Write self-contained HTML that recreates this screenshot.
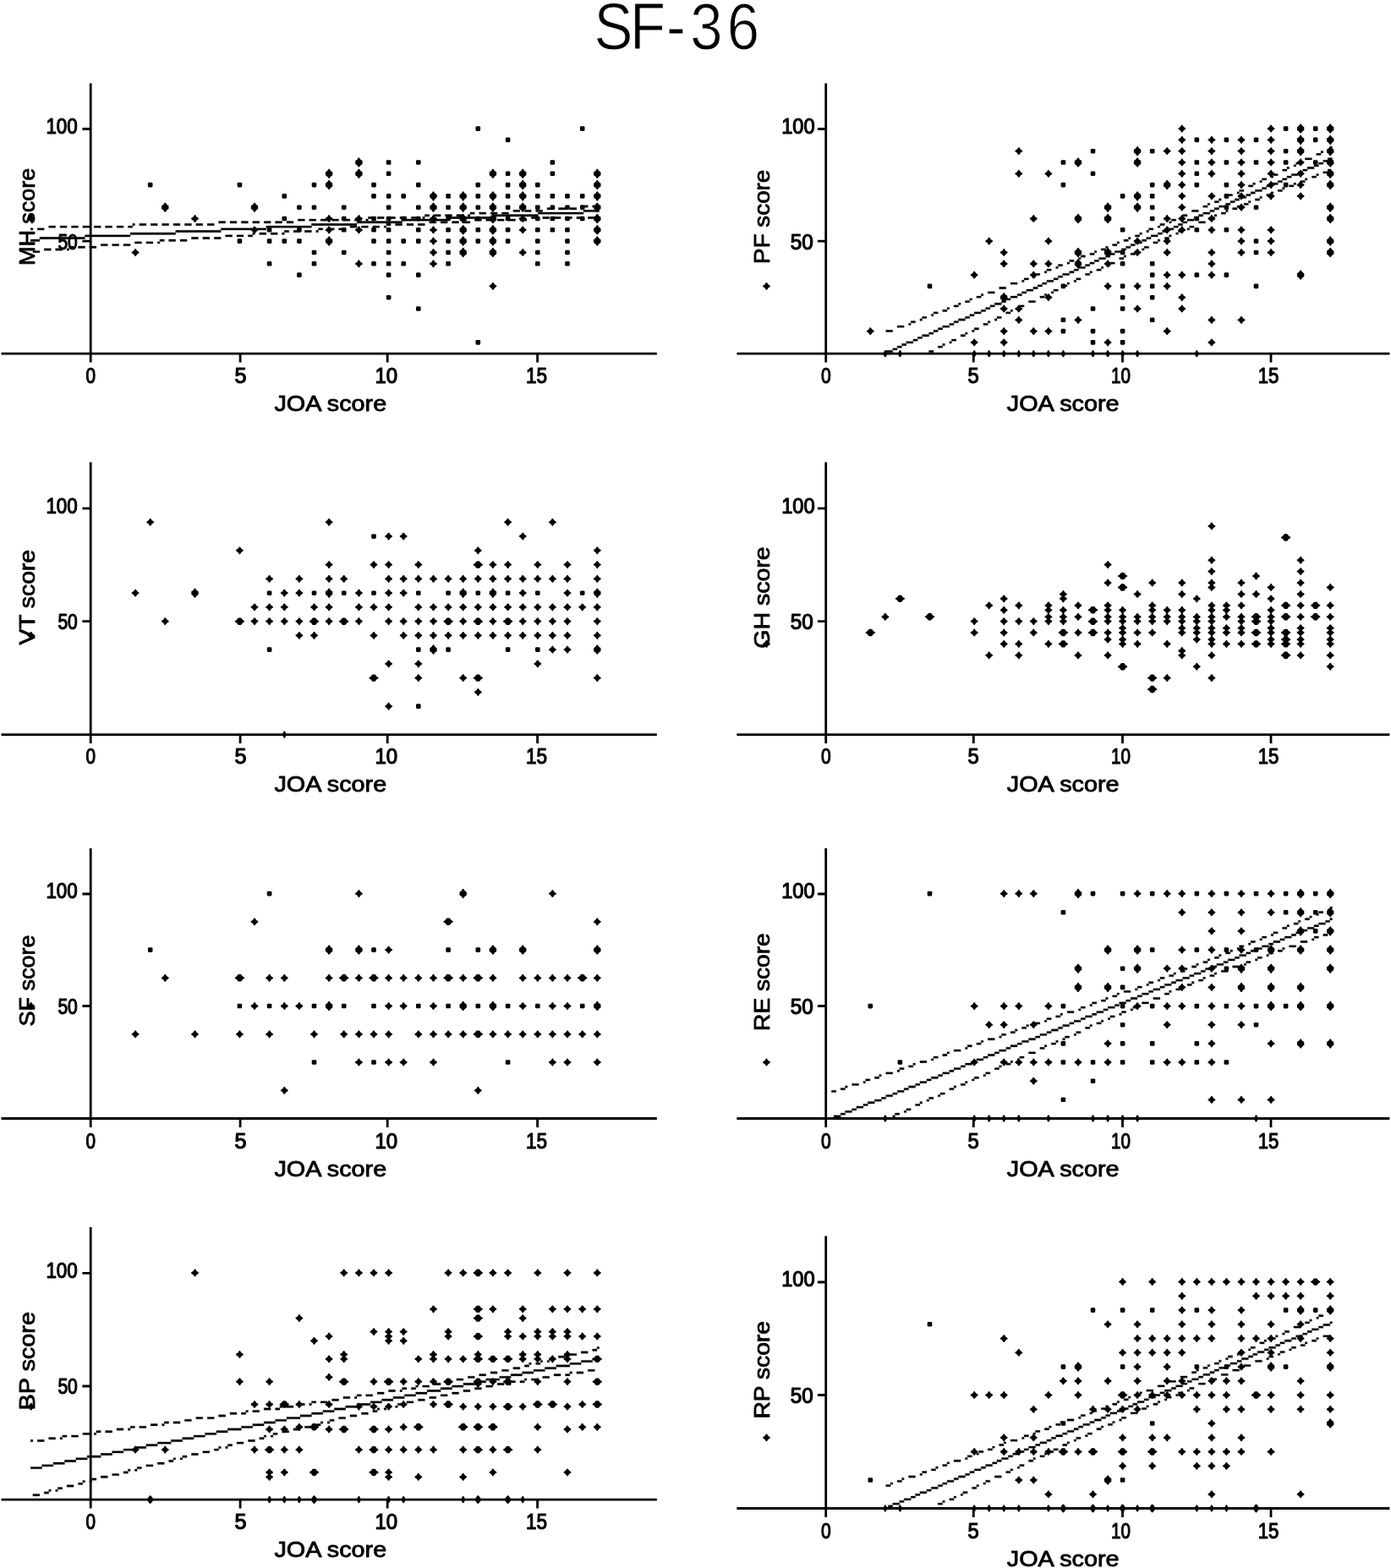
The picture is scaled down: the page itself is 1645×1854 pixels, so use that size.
<!DOCTYPE html>
<html lang="en"><head><meta charset="utf-8"><title>SF-36</title>
<style>
html,body{margin:0;padding:0;background:#fff;}
body{width:1645px;height:1854px;overflow:hidden;}
svg{display:block;filter:blur(.7px);}
text{font-family:"Liberation Sans",Arial,Helvetica,sans-serif;fill:#000;text-anchor:middle;}
.ttl{font-size:77.4px;text-anchor:start;stroke:#fff;stroke-width:1.1px;paint-order:fill stroke;}
.tk{font-size:25.4px;stroke:#000;stroke-width:1.2px;stroke-linejoin:round;}
.lb{font-size:26.6px;stroke:#000;stroke-width:.85px;stroke-linejoin:round;}
.ax{stroke:#000;stroke-width:2.8;fill:none;}
.rl,.ci{fill:#000;stroke:#000;stroke-width:.3;stroke-linejoin:round;}
.pt{fill:#000;}
</style></head><body>
<svg width="1645" height="1854" viewBox="0 0 1645 1854">
<rect width="1645" height="1854" fill="#fff"/>
<defs>
<rect id="s" x="-2.8" y="-2.8" width="5.6" height="5.6" rx="1.4"/>
<path id="m" d="M0-3.5Q1-1 3.5 0Q1 1 0 3.5Q-1 1-3.5 0Q-1-1 0-3.5Z" stroke="#000" stroke-width="1.9" stroke-linejoin="round"/>
<path id="b" d="M0-4.9Q1.3-2.3 3.4-1.4V1.4Q1.3 2.3 0 4.9Q-1.3 2.3-3.4 1.4V-1.4Q-1.3-2.3 0-4.9Z" stroke="#000" stroke-width="1.6" stroke-linejoin="round"/>
<path id="w" d="M-4.9 0Q-2.3-1.3-1.4-3.4H1.4Q2.3-1.3 4.9 0Q2.3 1.3 1.4 3.4H-1.4Q-2.3 1.3-4.9 0Z" stroke="#000" stroke-width="1.6" stroke-linejoin="round"/>
<path id="z" d="M0-3.1L1.6 0L0 3.1L-1.6 0Z" stroke="#000" stroke-width="2" stroke-linejoin="round"/>
<path id="Z" d="M0-3.4L2.4 0L0 3.4L-2.4 0Z" stroke="#000" stroke-width="2.8" stroke-linejoin="round"/>
</defs>
<text class="ttl" transform="scale(.89 1)" x="789.3 837 885.5 917.1 966" y="57.6">SF-36</text>
<g id="panel-MH">
<path class="ax" d="M107.2 98.4V418.2M1.5 418.2H776.8M107.2 418.2v10.4M284.1 418.2v10.4M458.2 418.2v10.4M635.6 418.2v10.4M107.2 285.1h-9.8M107.2 152.5h-9.8"/>
<text class="tk" x="73.1" y="158" textLength="37.3" lengthAdjust="spacingAndGlyphs">100</text>
<text class="tk" x="80.1" y="295" textLength="23.4" lengthAdjust="spacingAndGlyphs">50</text>
<text class="lb" transform="translate(41.2 256.4) rotate(-90)" textLength="115.4" lengthAdjust="spacingAndGlyphs">MH score</text>
<text class="tk" x="107.3" y="453.2" textLength="11.5" lengthAdjust="spacingAndGlyphs">0</text>
<text class="tk" x="284.6" y="453.2" textLength="14" lengthAdjust="spacingAndGlyphs">5</text>
<text class="tk" x="456.8" y="453.2" textLength="26.7" lengthAdjust="spacingAndGlyphs">10</text>
<text class="tk" x="634.6" y="453.2" textLength="25.1" lengthAdjust="spacingAndGlyphs">15</text>
<text class="lb" x="390.8" y="486.2" textLength="132.8" lengthAdjust="spacingAndGlyphs">JOA score</text>
<g class="pt"><use href="#m" x="36.7" y="258.5"/><use href="#m" x="160.1" y="298.5"/><use href="#s" x="177.7" y="218.6"/><use href="#b" x="195.3" y="245.2"/><use href="#m" x="230.5" y="258.5"/><use href="#s" x="283.4" y="218.6"/><use href="#s" x="283.4" y="285.1"/><use href="#b" x="301" y="245.2"/><use href="#m" x="301" y="271.8"/><use href="#s" x="318.6" y="271.8"/><use href="#s" x="318.6" y="285.1"/><use href="#s" x="318.6" y="311.8"/><use href="#s" x="336.3" y="231.9"/><use href="#s" x="336.3" y="258.5"/><use href="#s" x="336.3" y="285.1"/><use href="#s" x="353.9" y="245.2"/><use href="#s" x="353.9" y="271.8"/><use href="#s" x="353.9" y="285.1"/><use href="#s" x="353.9" y="325.1"/><use href="#s" x="371.5" y="218.6"/><use href="#s" x="371.5" y="245.2"/><use href="#s" x="371.5" y="298.5"/><use href="#s" x="371.5" y="311.8"/><use href="#b" x="389.1" y="205.3"/><use href="#b" x="389.1" y="218.6"/><use href="#m" x="389.1" y="258.5"/><use href="#m" x="389.1" y="271.8"/><use href="#b" x="389.1" y="285.1"/><use href="#s" x="406.7" y="245.2"/><use href="#s" x="406.7" y="258.5"/><use href="#s" x="406.7" y="271.8"/><use href="#s" x="406.7" y="298.5"/><use href="#b" x="424.4" y="192"/><use href="#b" x="424.4" y="205.3"/><use href="#m" x="424.4" y="258.5"/><use href="#m" x="424.4" y="271.8"/><use href="#m" x="424.4" y="311.8"/><use href="#s" x="442" y="218.6"/><use href="#s" x="442" y="231.9"/><use href="#s" x="442" y="258.5"/><use href="#s" x="442" y="271.8"/><use href="#s" x="442" y="285.1"/><use href="#s" x="442" y="311.8"/><use href="#s" x="459.6" y="192"/><use href="#s" x="459.6" y="205.3"/><use href="#s" x="459.6" y="231.9"/><use href="#s" x="459.6" y="245.2"/><use href="#s" x="459.6" y="258.5"/><use href="#s" x="459.6" y="271.8"/><use href="#s" x="459.6" y="285.1"/><use href="#s" x="459.6" y="298.5"/><use href="#s" x="459.6" y="311.8"/><use href="#s" x="459.6" y="325.1"/><use href="#s" x="459.6" y="351.7"/><use href="#s" x="477.2" y="231.9"/><use href="#s" x="477.2" y="258.5"/><use href="#s" x="477.2" y="285.1"/><use href="#s" x="477.2" y="311.8"/><use href="#s" x="494.8" y="192"/><use href="#s" x="494.8" y="218.6"/><use href="#s" x="494.8" y="245.2"/><use href="#s" x="494.8" y="258.5"/><use href="#s" x="494.8" y="271.8"/><use href="#s" x="494.8" y="285.1"/><use href="#s" x="494.8" y="325.1"/><use href="#s" x="494.8" y="365"/><use href="#b" x="512.5" y="231.9"/><use href="#b" x="512.5" y="245.2"/><use href="#m" x="512.5" y="258.5"/><use href="#m" x="512.5" y="271.8"/><use href="#m" x="512.5" y="285.1"/><use href="#m" x="512.5" y="298.5"/><use href="#m" x="512.5" y="311.8"/><use href="#s" x="530.1" y="231.9"/><use href="#s" x="530.1" y="245.2"/><use href="#s" x="530.1" y="258.5"/><use href="#s" x="530.1" y="271.8"/><use href="#s" x="530.1" y="285.1"/><use href="#s" x="530.1" y="298.5"/><use href="#s" x="530.1" y="311.8"/><use href="#b" x="547.7" y="231.9"/><use href="#b" x="547.7" y="245.2"/><use href="#b" x="547.7" y="258.5"/><use href="#b" x="547.7" y="271.8"/><use href="#b" x="547.7" y="285.1"/><use href="#b" x="547.7" y="298.5"/><use href="#s" x="565.3" y="152.1"/><use href="#s" x="565.3" y="218.6"/><use href="#s" x="565.3" y="231.9"/><use href="#s" x="565.3" y="245.2"/><use href="#s" x="565.3" y="258.5"/><use href="#s" x="565.3" y="271.8"/><use href="#s" x="565.3" y="285.1"/><use href="#s" x="565.3" y="404.9"/><use href="#b" x="582.9" y="205.3"/><use href="#b" x="582.9" y="231.9"/><use href="#b" x="582.9" y="245.2"/><use href="#b" x="582.9" y="258.5"/><use href="#b" x="582.9" y="271.8"/><use href="#b" x="582.9" y="285.1"/><use href="#b" x="582.9" y="298.5"/><use href="#m" x="582.9" y="338.4"/><use href="#s" x="600.6" y="165.4"/><use href="#s" x="600.6" y="205.3"/><use href="#s" x="600.6" y="218.6"/><use href="#s" x="600.6" y="231.9"/><use href="#s" x="600.6" y="245.2"/><use href="#s" x="600.6" y="258.5"/><use href="#s" x="600.6" y="271.8"/><use href="#s" x="600.6" y="285.1"/><use href="#b" x="618.2" y="205.3"/><use href="#b" x="618.2" y="218.6"/><use href="#b" x="618.2" y="231.9"/><use href="#b" x="618.2" y="245.2"/><use href="#m" x="618.2" y="258.5"/><use href="#m" x="618.2" y="271.8"/><use href="#m" x="618.2" y="298.5"/><use href="#s" x="635.8" y="218.6"/><use href="#s" x="635.8" y="231.9"/><use href="#s" x="635.8" y="245.2"/><use href="#s" x="635.8" y="258.5"/><use href="#s" x="635.8" y="271.8"/><use href="#s" x="635.8" y="285.1"/><use href="#s" x="635.8" y="298.5"/><use href="#s" x="635.8" y="311.8"/><use href="#s" x="653.4" y="192"/><use href="#s" x="653.4" y="205.3"/><use href="#s" x="653.4" y="231.9"/><use href="#s" x="653.4" y="245.2"/><use href="#s" x="653.4" y="258.5"/><use href="#s" x="653.4" y="271.8"/><use href="#s" x="671" y="231.9"/><use href="#s" x="671" y="245.2"/><use href="#s" x="671" y="258.5"/><use href="#s" x="671" y="271.8"/><use href="#s" x="671" y="285.1"/><use href="#s" x="671" y="298.5"/><use href="#s" x="671" y="311.8"/><use href="#s" x="688.7" y="152.1"/><use href="#s" x="688.7" y="231.9"/><use href="#s" x="688.7" y="245.2"/><use href="#s" x="688.7" y="258.5"/><use href="#b" x="706.3" y="205.3"/><use href="#b" x="706.3" y="218.6"/><use href="#b" x="706.3" y="231.9"/><use href="#b" x="706.3" y="245.2"/><use href="#b" x="706.3" y="258.5"/><use href="#b" x="706.3" y="271.8"/><use href="#b" x="706.3" y="285.1"/></g>
<path class="rl" d="M36.2 283.04h10.72v2.4h-10.72zM46.92 280.36h53.58v2.4h-53.58zM100.5 277.68h53.58v2.4h-53.58zM154.09 275h53.58v2.4h-53.58zM207.67 272.32h53.58v2.4h-53.58zM261.25 269.64h53.58v2.4h-53.58zM314.84 266.96h53.58v2.4h-53.58zM368.42 264.29h53.58v2.4h-53.58zM422.01 261.61h53.58v2.4h-53.58zM475.59 258.93h53.58v2.4h-53.58zM529.17 256.25h53.58v2.4h-53.58zM582.76 253.57h53.58v2.4h-53.58zM636.34 250.89h53.58v2.4h-53.58zM689.93 248.21h18.75v2.4h-18.75z"/>
<path class="ci" d="M36.2 269.64h2.68v2.4h-2.68zM44.24 269.64h8.04v2.4h-8.04zM57.63 266.96h8.04v2.4h-8.04zM71.03 266.96h8.04v2.4h-8.04zM84.43 266.96h8.04v2.4h-8.04zM97.82 266.96h8.04v2.4h-8.04zM111.22 266.96h8.04v2.4h-8.04zM124.61 266.96h8.04v2.4h-8.04zM138.01 266.96h8.04v2.4h-8.04zM151.41 266.96h5.36v2.4h-5.36zM156.77 264.29h2.68v2.4h-2.68zM164.8 264.29h8.04v2.4h-8.04zM178.2 264.29h8.04v2.4h-8.04zM191.59 264.29h8.04v2.4h-8.04zM204.99 264.29h8.04v2.4h-8.04zM218.39 264.29h8.04v2.4h-8.04zM231.78 264.29h8.04v2.4h-8.04zM245.18 264.29h8.04v2.4h-8.04zM258.57 261.61h8.04v2.4h-8.04zM271.97 261.61h8.04v2.4h-8.04zM285.37 261.61h8.04v2.4h-8.04zM298.76 261.61h8.04v2.4h-8.04zM312.16 261.61h8.04v2.4h-8.04zM325.55 261.61h8.04v2.4h-8.04zM338.95 261.61h8.04v2.4h-8.04zM352.35 258.93h8.04v2.4h-8.04zM365.74 258.93h8.04v2.4h-8.04zM379.14 258.93h8.04v2.4h-8.04zM392.53 258.93h8.04v2.4h-8.04zM405.93 258.93h8.04v2.4h-8.04zM419.33 258.93h8.04v2.4h-8.04zM432.72 258.93h2.68v2.4h-2.68zM435.4 256.25h5.36v2.4h-5.36zM446.12 256.25h8.04v2.4h-8.04zM459.51 256.25h8.04v2.4h-8.04zM472.91 256.25h8.04v2.4h-8.04zM486.31 256.25h8.04v2.4h-8.04zM499.7 256.25h2.68v2.4h-2.68zM502.38 253.57h5.36v2.4h-5.36zM513.1 253.57h8.04v2.4h-8.04zM526.49 253.57h8.04v2.4h-8.04zM539.89 253.57h8.04v2.4h-8.04zM553.29 253.57h2.68v2.4h-2.68zM555.97 250.89h5.36v2.4h-5.36zM566.68 250.89h8.04v2.4h-8.04zM580.08 250.89h8.04v2.4h-8.04zM593.47 250.89h8.04v2.4h-8.04zM606.87 248.21h8.04v2.4h-8.04zM620.27 248.21h8.04v2.4h-8.04zM633.66 248.21h8.04v2.4h-8.04zM647.06 245.53h8.04v2.4h-8.04zM660.45 245.53h8.04v2.4h-8.04zM673.85 245.53h8.04v2.4h-8.04zM687.25 242.85h8.04v2.4h-8.04zM700.64 242.85h8.04v2.4h-8.04z"/>
<path class="ci" d="M38.88 296.44h8.04v2.4h-8.04zM52.28 293.76h8.04v2.4h-8.04zM65.67 293.76h8.04v2.4h-8.04zM79.07 293.76h2.68v2.4h-2.68zM81.75 291.08h5.36v2.4h-5.36zM92.46 291.08h8.04v2.4h-8.04zM105.86 291.08h8.04v2.4h-8.04zM119.26 288.4h8.04v2.4h-8.04zM132.65 288.4h8.04v2.4h-8.04zM146.05 288.4h8.04v2.4h-8.04zM159.44 285.72h8.04v2.4h-8.04zM172.84 285.72h8.04v2.4h-8.04zM186.24 285.72h2.68v2.4h-2.68zM188.92 283.04h5.36v2.4h-5.36zM199.63 283.04h8.04v2.4h-8.04zM213.03 283.04h8.04v2.4h-8.04zM226.42 280.36h8.04v2.4h-8.04zM239.82 280.36h8.04v2.4h-8.04zM253.22 280.36h8.04v2.4h-8.04zM266.61 277.68h8.04v2.4h-8.04zM280.01 277.68h8.04v2.4h-8.04zM293.4 277.68h5.36v2.4h-5.36zM298.76 275h2.68v2.4h-2.68zM306.8 275h8.04v2.4h-8.04zM320.2 275h8.04v2.4h-8.04zM333.59 275h2.68v2.4h-2.68zM336.27 272.32h5.36v2.4h-5.36zM346.99 272.32h8.04v2.4h-8.04zM360.38 272.32h8.04v2.4h-8.04zM373.78 272.32h2.68v2.4h-2.68zM376.46 269.64h5.36v2.4h-5.36zM387.18 269.64h8.04v2.4h-8.04zM400.57 269.64h8.04v2.4h-8.04zM413.97 266.96h8.04v2.4h-8.04zM427.36 266.96h8.04v2.4h-8.04zM440.76 266.96h8.04v2.4h-8.04zM454.16 266.96h2.68v2.4h-2.68zM456.84 264.29h5.36v2.4h-5.36zM467.55 264.29h8.04v2.4h-8.04zM480.95 264.29h8.04v2.4h-8.04zM494.34 264.29h8.04v2.4h-8.04zM507.74 261.61h8.04v2.4h-8.04zM521.14 261.61h8.04v2.4h-8.04zM534.53 261.61h8.04v2.4h-8.04zM547.93 261.61h8.04v2.4h-8.04zM561.32 258.93h8.04v2.4h-8.04zM574.72 258.93h8.04v2.4h-8.04zM588.12 258.93h8.04v2.4h-8.04zM601.51 258.93h8.04v2.4h-8.04zM614.91 258.93h8.04v2.4h-8.04zM628.3 256.25h8.04v2.4h-8.04zM641.7 256.25h8.04v2.4h-8.04zM655.1 256.25h8.04v2.4h-8.04zM668.49 256.25h8.04v2.4h-8.04zM681.89 256.25h8.04v2.4h-8.04zM695.28 256.25h8.04v2.4h-8.04z"/>
</g>
<g id="panel-PF">
<path class="ax" d="M976.7 98.4V418.2M871.4 418.2H1643.4M976.7 418.2v10.4M1151.3 418.2v10.4M1327.5 418.2v10.4M1503 418.2v10.4M976.7 285.1h-9.8M976.7 152.5h-9.8"/>
<text class="tk" x="943.9" y="158" textLength="39.5" lengthAdjust="spacingAndGlyphs">100</text>
<text class="tk" x="948.3" y="295" textLength="27" lengthAdjust="spacingAndGlyphs">50</text>
<text class="lb" transform="translate(910.2 256.3) rotate(-90)" textLength="111.2" lengthAdjust="spacingAndGlyphs">PF score</text>
<text class="tk" x="976.8" y="453.2" textLength="11.7" lengthAdjust="spacingAndGlyphs">0</text>
<text class="tk" x="1151.2" y="453.2" textLength="13.2" lengthAdjust="spacingAndGlyphs">5</text>
<text class="tk" x="1325.5" y="453.2" textLength="22.9" lengthAdjust="spacingAndGlyphs">10</text>
<text class="tk" x="1500" y="453.2" textLength="24.6" lengthAdjust="spacingAndGlyphs">15</text>
<text class="lb" x="1257.2" y="486.2" textLength="132.8" lengthAdjust="spacingAndGlyphs">JOA score</text>
<g class="pt"><use href="#m" x="906.5" y="338.4"/><use href="#m" x="1029.3" y="391.6"/><use href="#z" x="1046.9" y="418.2"/><use href="#z" x="1064.4" y="418.2"/><use href="#s" x="1099.5" y="338.4"/><use href="#m" x="1152.2" y="325.1"/><use href="#m" x="1152.2" y="404.9"/><use href="#z" x="1152.2" y="418.2"/><use href="#m" x="1169.7" y="285.1"/><use href="#z" x="1169.7" y="418.2"/><use href="#m" x="1187.2" y="298.5"/><use href="#m" x="1187.2" y="311.8"/><use href="#b" x="1187.2" y="351.7"/><use href="#m" x="1187.2" y="365"/><use href="#m" x="1187.2" y="391.6"/><use href="#m" x="1187.2" y="404.9"/><use href="#z" x="1187.2" y="418.2"/><use href="#m" x="1204.8" y="178.7"/><use href="#m" x="1204.8" y="205.3"/><use href="#m" x="1204.8" y="365"/><use href="#m" x="1204.8" y="378.3"/><use href="#z" x="1204.8" y="418.2"/><use href="#m" x="1222.3" y="258.5"/><use href="#m" x="1222.3" y="311.8"/><use href="#m" x="1222.3" y="325.1"/><use href="#m" x="1222.3" y="391.6"/><use href="#z" x="1222.3" y="418.2"/><use href="#m" x="1239.9" y="205.3"/><use href="#m" x="1239.9" y="285.1"/><use href="#m" x="1239.9" y="311.8"/><use href="#m" x="1239.9" y="351.7"/><use href="#m" x="1239.9" y="391.6"/><use href="#z" x="1239.9" y="418.2"/><use href="#s" x="1257.4" y="192"/><use href="#s" x="1257.4" y="218.6"/><use href="#s" x="1257.4" y="338.4"/><use href="#s" x="1257.4" y="378.3"/><use href="#s" x="1257.4" y="391.6"/><use href="#z" x="1257.4" y="418.2"/><use href="#b" x="1275" y="192"/><use href="#b" x="1275" y="258.5"/><use href="#b" x="1275" y="298.5"/><use href="#b" x="1275" y="311.8"/><use href="#m" x="1275" y="378.3"/><use href="#s" x="1292.5" y="178.7"/><use href="#s" x="1292.5" y="205.3"/><use href="#s" x="1292.5" y="365"/><use href="#s" x="1292.5" y="391.6"/><use href="#s" x="1292.5" y="404.9"/><use href="#z" x="1292.5" y="418.2"/><use href="#b" x="1310.1" y="245.2"/><use href="#b" x="1310.1" y="258.5"/><use href="#b" x="1310.1" y="298.5"/><use href="#m" x="1310.1" y="311.8"/><use href="#m" x="1310.1" y="338.4"/><use href="#m" x="1310.1" y="404.9"/><use href="#z" x="1310.1" y="418.2"/><use href="#s" x="1327.6" y="231.9"/><use href="#s" x="1327.6" y="271.8"/><use href="#s" x="1327.6" y="298.5"/><use href="#s" x="1327.6" y="311.8"/><use href="#s" x="1327.6" y="338.4"/><use href="#s" x="1327.6" y="351.7"/><use href="#s" x="1327.6" y="365"/><use href="#s" x="1327.6" y="391.6"/><use href="#s" x="1327.6" y="404.9"/><use href="#z" x="1327.6" y="418.2"/><use href="#b" x="1345.1" y="178.7"/><use href="#b" x="1345.1" y="192"/><use href="#b" x="1345.1" y="231.9"/><use href="#b" x="1345.1" y="245.2"/><use href="#m" x="1345.1" y="285.1"/><use href="#m" x="1345.1" y="298.5"/><use href="#m" x="1345.1" y="338.4"/><use href="#m" x="1345.1" y="365"/><use href="#z" x="1345.1" y="418.2"/><use href="#s" x="1362.7" y="178.7"/><use href="#s" x="1362.7" y="218.6"/><use href="#s" x="1362.7" y="231.9"/><use href="#s" x="1362.7" y="245.2"/><use href="#s" x="1362.7" y="258.5"/><use href="#s" x="1362.7" y="311.8"/><use href="#s" x="1362.7" y="325.1"/><use href="#s" x="1362.7" y="338.4"/><use href="#s" x="1362.7" y="351.7"/><use href="#s" x="1362.7" y="378.3"/><use href="#m" x="1380.2" y="178.7"/><use href="#b" x="1380.2" y="218.6"/><use href="#m" x="1380.2" y="258.5"/><use href="#m" x="1380.2" y="271.8"/><use href="#m" x="1380.2" y="285.1"/><use href="#m" x="1380.2" y="298.5"/><use href="#m" x="1380.2" y="325.1"/><use href="#m" x="1380.2" y="338.4"/><use href="#m" x="1380.2" y="391.6"/><use href="#m" x="1397.8" y="152.1"/><use href="#m" x="1397.8" y="165.4"/><use href="#m" x="1397.8" y="178.7"/><use href="#m" x="1397.8" y="192"/><use href="#m" x="1397.8" y="205.3"/><use href="#m" x="1397.8" y="218.6"/><use href="#m" x="1397.8" y="231.9"/><use href="#m" x="1397.8" y="245.2"/><use href="#m" x="1397.8" y="258.5"/><use href="#m" x="1397.8" y="271.8"/><use href="#m" x="1397.8" y="325.1"/><use href="#m" x="1397.8" y="351.7"/><use href="#m" x="1397.8" y="365"/><use href="#s" x="1415.3" y="165.4"/><use href="#s" x="1415.3" y="192"/><use href="#s" x="1415.3" y="205.3"/><use href="#s" x="1415.3" y="218.6"/><use href="#s" x="1415.3" y="258.5"/><use href="#s" x="1415.3" y="271.8"/><use href="#s" x="1415.3" y="325.1"/><use href="#z" x="1415.3" y="418.2"/><use href="#m" x="1432.9" y="165.4"/><use href="#m" x="1432.9" y="178.7"/><use href="#m" x="1432.9" y="192"/><use href="#m" x="1432.9" y="205.3"/><use href="#m" x="1432.9" y="231.9"/><use href="#m" x="1432.9" y="258.5"/><use href="#m" x="1432.9" y="271.8"/><use href="#m" x="1432.9" y="298.5"/><use href="#m" x="1432.9" y="311.8"/><use href="#m" x="1432.9" y="325.1"/><use href="#m" x="1432.9" y="378.3"/><use href="#m" x="1432.9" y="404.9"/><use href="#s" x="1450.4" y="165.4"/><use href="#s" x="1450.4" y="192"/><use href="#s" x="1450.4" y="218.6"/><use href="#s" x="1450.4" y="231.9"/><use href="#s" x="1450.4" y="245.2"/><use href="#s" x="1450.4" y="271.8"/><use href="#s" x="1450.4" y="325.1"/><use href="#m" x="1468" y="165.4"/><use href="#m" x="1468" y="178.7"/><use href="#m" x="1468" y="192"/><use href="#m" x="1468" y="205.3"/><use href="#m" x="1468" y="218.6"/><use href="#m" x="1468" y="231.9"/><use href="#m" x="1468" y="245.2"/><use href="#m" x="1468" y="271.8"/><use href="#m" x="1468" y="285.1"/><use href="#m" x="1468" y="298.5"/><use href="#m" x="1468" y="378.3"/><use href="#s" x="1485.5" y="165.4"/><use href="#s" x="1485.5" y="192"/><use href="#s" x="1485.5" y="245.2"/><use href="#s" x="1485.5" y="285.1"/><use href="#s" x="1485.5" y="298.5"/><use href="#s" x="1485.5" y="338.4"/><use href="#m" x="1503.1" y="152.1"/><use href="#m" x="1503.1" y="165.4"/><use href="#m" x="1503.1" y="178.7"/><use href="#m" x="1503.1" y="192"/><use href="#m" x="1503.1" y="205.3"/><use href="#m" x="1503.1" y="218.6"/><use href="#m" x="1503.1" y="231.9"/><use href="#m" x="1503.1" y="271.8"/><use href="#m" x="1503.1" y="285.1"/><use href="#m" x="1503.1" y="298.5"/><use href="#s" x="1520.6" y="152.1"/><use href="#s" x="1520.6" y="178.7"/><use href="#s" x="1520.6" y="192"/><use href="#s" x="1520.6" y="218.6"/><use href="#b" x="1538.1" y="152.1"/><use href="#b" x="1538.1" y="165.4"/><use href="#b" x="1538.1" y="178.7"/><use href="#m" x="1538.1" y="192"/><use href="#m" x="1538.1" y="205.3"/><use href="#m" x="1538.1" y="218.6"/><use href="#m" x="1538.1" y="231.9"/><use href="#b" x="1538.1" y="325.1"/><use href="#s" x="1555.7" y="152.1"/><use href="#s" x="1555.7" y="165.4"/><use href="#s" x="1555.7" y="192"/><use href="#b" x="1573.2" y="152.1"/><use href="#b" x="1573.2" y="165.4"/><use href="#b" x="1573.2" y="178.7"/><use href="#b" x="1573.2" y="192"/><use href="#b" x="1573.2" y="205.3"/><use href="#b" x="1573.2" y="218.6"/><use href="#b" x="1573.2" y="245.2"/><use href="#b" x="1573.2" y="258.5"/><use href="#b" x="1573.2" y="285.1"/><use href="#b" x="1573.2" y="298.5"/></g>
<path class="rl" d="M1045.02 417.05h2.68v2.3h-2.68zM1047.7 414.37h8.04v2.3h-8.04zM1055.74 411.69h5.36v2.3h-5.36zM1061.09 409.01h5.36v2.3h-5.36zM1066.45 406.33h5.36v2.3h-5.36zM1071.81 403.65h8.04v2.3h-8.04zM1079.85 400.97h5.36v2.3h-5.36zM1085.21 398.3h5.36v2.3h-5.36zM1090.57 395.62h8.04v2.3h-8.04zM1098.6 392.94h5.36v2.3h-5.36zM1103.96 390.26h5.36v2.3h-5.36zM1109.32 387.58h5.36v2.3h-5.36zM1114.68 384.9h8.04v2.3h-8.04zM1122.72 382.22h5.36v2.3h-5.36zM1128.07 379.54h5.36v2.3h-5.36zM1133.43 376.86h8.04v2.3h-8.04zM1141.47 374.18h5.36v2.3h-5.36zM1146.83 371.5h5.36v2.3h-5.36zM1152.19 368.82h8.04v2.3h-8.04zM1160.23 366.15h5.36v2.3h-5.36zM1165.58 363.47h5.36v2.3h-5.36zM1170.94 360.79h5.36v2.3h-5.36zM1176.3 358.11h8.04v2.3h-8.04zM1184.34 355.43h5.36v2.3h-5.36zM1189.7 352.75h5.36v2.3h-5.36zM1195.05 350.07h8.04v2.3h-8.04zM1203.09 347.39h5.36v2.3h-5.36zM1208.45 344.71h5.36v2.3h-5.36zM1213.81 342.03h8.04v2.3h-8.04zM1221.85 339.35h5.36v2.3h-5.36zM1227.21 336.67h5.36v2.3h-5.36zM1232.56 333.99h5.36v2.3h-5.36zM1237.92 331.32h8.04v2.3h-8.04zM1245.96 328.64h5.36v2.3h-5.36zM1251.32 325.96h5.36v2.3h-5.36zM1256.68 323.28h8.04v2.3h-8.04zM1264.71 320.6h5.36v2.3h-5.36zM1270.07 317.92h5.36v2.3h-5.36zM1275.43 315.24h8.04v2.3h-8.04zM1283.47 312.56h5.36v2.3h-5.36zM1288.83 309.88h5.36v2.3h-5.36zM1294.19 307.2h5.36v2.3h-5.36zM1299.54 304.52h8.04v2.3h-8.04zM1307.58 301.84h5.36v2.3h-5.36zM1312.94 299.17h5.36v2.3h-5.36zM1318.3 296.49h8.04v2.3h-8.04zM1326.34 293.81h5.36v2.3h-5.36zM1331.69 291.13h5.36v2.3h-5.36zM1337.05 288.45h5.36v2.3h-5.36zM1342.41 285.77h8.04v2.3h-8.04zM1350.45 283.09h5.36v2.3h-5.36zM1355.81 280.41h5.36v2.3h-5.36zM1361.17 277.73h8.04v2.3h-8.04zM1369.2 275.05h5.36v2.3h-5.36zM1374.56 272.37h5.36v2.3h-5.36zM1379.92 269.69h8.04v2.3h-8.04zM1387.96 267.01h5.36v2.3h-5.36zM1393.32 264.34h5.36v2.3h-5.36zM1398.67 261.66h5.36v2.3h-5.36zM1404.03 258.98h8.04v2.3h-8.04zM1412.07 256.3h5.36v2.3h-5.36zM1417.43 253.62h5.36v2.3h-5.36zM1422.79 250.94h8.04v2.3h-8.04zM1430.82 248.26h5.36v2.3h-5.36zM1436.18 245.58h5.36v2.3h-5.36zM1441.54 242.9h8.04v2.3h-8.04zM1449.58 240.22h5.36v2.3h-5.36zM1454.94 237.54h5.36v2.3h-5.36zM1460.3 234.86h5.36v2.3h-5.36zM1465.65 232.19h8.04v2.3h-8.04zM1473.69 229.51h5.36v2.3h-5.36zM1479.05 226.83h5.36v2.3h-5.36zM1484.41 224.15h8.04v2.3h-8.04zM1492.45 221.47h5.36v2.3h-5.36zM1497.8 218.79h5.36v2.3h-5.36zM1503.16 216.11h8.04v2.3h-8.04zM1511.2 213.43h5.36v2.3h-5.36zM1516.56 210.75h5.36v2.3h-5.36zM1521.92 208.07h5.36v2.3h-5.36zM1527.28 205.39h8.04v2.3h-8.04zM1535.31 202.71h5.36v2.3h-5.36zM1540.67 200.03h5.36v2.3h-5.36zM1546.03 197.36h8.04v2.3h-8.04zM1554.07 194.68h5.36v2.3h-5.36zM1559.43 192h5.36v2.3h-5.36zM1564.78 189.32h5.36v2.3h-5.36zM1570.14 186.64h5.36v2.3h-5.36z"/>
<path class="ci" d="M1047.7 390.26h8.04v2.3h-8.04zM1061.09 384.9h8.04v2.3h-8.04zM1074.49 382.22h2.68v2.3h-2.68zM1077.17 379.54h5.36v2.3h-5.36zM1087.89 376.86h2.68v2.3h-2.68zM1090.57 374.18h5.36v2.3h-5.36zM1101.28 371.5h2.68v2.3h-2.68zM1103.96 368.82h5.36v2.3h-5.36zM1114.68 366.15h5.36v2.3h-5.36zM1120.04 363.47h2.68v2.3h-2.68zM1128.07 360.79h5.36v2.3h-5.36zM1133.43 358.11h2.68v2.3h-2.68zM1141.47 355.43h5.36v2.3h-5.36zM1146.83 352.75h2.68v2.3h-2.68zM1154.87 350.07h5.36v2.3h-5.36zM1160.23 347.39h2.68v2.3h-2.68zM1168.26 344.71h8.04v2.3h-8.04zM1181.66 339.35h8.04v2.3h-8.04zM1195.05 333.99h8.04v2.3h-8.04zM1208.45 331.32h2.68v2.3h-2.68zM1211.13 328.64h5.36v2.3h-5.36zM1221.85 325.96h2.68v2.3h-2.68zM1224.53 323.28h5.36v2.3h-5.36zM1235.24 320.6h2.68v2.3h-2.68zM1237.92 317.92h5.36v2.3h-5.36zM1248.64 315.24h2.68v2.3h-2.68zM1251.32 312.56h5.36v2.3h-5.36zM1262.03 309.88h2.68v2.3h-2.68zM1264.71 307.2h5.36v2.3h-5.36zM1275.43 304.52h2.68v2.3h-2.68zM1278.11 301.84h5.36v2.3h-5.36zM1288.83 299.17h5.36v2.3h-5.36zM1294.19 296.49h2.68v2.3h-2.68zM1302.22 293.81h5.36v2.3h-5.36zM1307.58 291.13h2.68v2.3h-2.68zM1315.62 288.45h5.36v2.3h-5.36zM1320.98 285.77h2.68v2.3h-2.68zM1329.01 283.09h5.36v2.3h-5.36zM1334.37 280.41h2.68v2.3h-2.68zM1342.41 277.73h5.36v2.3h-5.36zM1347.77 275.05h2.68v2.3h-2.68zM1355.81 272.37h2.68v2.3h-2.68zM1358.49 269.69h5.36v2.3h-5.36zM1369.2 267.01h2.68v2.3h-2.68zM1371.88 264.34h5.36v2.3h-5.36zM1382.6 261.66h2.68v2.3h-2.68zM1385.28 258.98h5.36v2.3h-5.36zM1395.99 256.3h2.68v2.3h-2.68zM1398.67 253.62h5.36v2.3h-5.36zM1409.39 248.26h8.04v2.3h-8.04zM1422.79 242.9h5.36v2.3h-5.36zM1428.15 240.22h2.68v2.3h-2.68zM1436.18 237.54h5.36v2.3h-5.36zM1441.54 234.86h2.68v2.3h-2.68zM1449.58 232.19h2.68v2.3h-2.68zM1452.26 229.51h5.36v2.3h-5.36zM1462.97 226.83h2.68v2.3h-2.68zM1465.65 224.15h5.36v2.3h-5.36zM1476.37 218.79h5.36v2.3h-5.36zM1481.73 216.11h2.68v2.3h-2.68zM1489.77 213.43h2.68v2.3h-2.68zM1492.45 210.75h5.36v2.3h-5.36zM1503.16 208.07h2.68v2.3h-2.68zM1505.84 205.39h5.36v2.3h-5.36zM1516.56 200.03h5.36v2.3h-5.36zM1521.92 197.36h2.68v2.3h-2.68zM1529.95 194.68h2.68v2.3h-2.68zM1532.63 192h5.36v2.3h-5.36zM1543.35 186.64h8.04v2.3h-8.04zM1556.75 181.28h5.36v2.3h-5.36zM1562.11 178.6h2.68v2.3h-2.68zM1570.14 175.92h2.68v2.3h-2.68zM1572.82 173.24h2.68v2.3h-2.68z"/>
<path class="ci" d="M1098.6 414.37h5.36v2.3h-5.36zM1109.32 409.01h5.36v2.3h-5.36zM1114.68 406.33h2.68v2.3h-2.68zM1122.72 403.65h2.68v2.3h-2.68zM1125.4 400.97h5.36v2.3h-5.36zM1136.11 395.62h5.36v2.3h-5.36zM1141.47 392.94h2.68v2.3h-2.68zM1149.51 390.26h2.68v2.3h-2.68zM1152.19 387.58h5.36v2.3h-5.36zM1162.9 382.22h5.36v2.3h-5.36zM1168.26 379.54h2.68v2.3h-2.68zM1176.3 376.86h2.68v2.3h-2.68zM1178.98 374.18h5.36v2.3h-5.36zM1189.7 368.82h5.36v2.3h-5.36zM1195.05 366.15h2.68v2.3h-2.68zM1203.09 363.47h2.68v2.3h-2.68zM1205.77 360.79h5.36v2.3h-5.36zM1216.49 355.43h8.04v2.3h-8.04zM1229.88 350.07h5.36v2.3h-5.36zM1235.24 347.39h2.68v2.3h-2.68zM1243.28 344.71h2.68v2.3h-2.68zM1245.96 342.03h5.36v2.3h-5.36zM1256.68 336.67h5.36v2.3h-5.36zM1262.03 333.99h2.68v2.3h-2.68zM1270.07 331.32h2.68v2.3h-2.68zM1272.75 328.64h5.36v2.3h-5.36zM1283.47 323.28h5.36v2.3h-5.36zM1288.83 320.6h2.68v2.3h-2.68zM1296.86 317.92h5.36v2.3h-5.36zM1302.22 315.24h2.68v2.3h-2.68zM1310.26 312.56h2.68v2.3h-2.68zM1312.94 309.88h5.36v2.3h-5.36zM1323.66 304.52h5.36v2.3h-5.36zM1329.01 301.84h2.68v2.3h-2.68zM1337.05 299.17h5.36v2.3h-5.36zM1342.41 296.49h2.68v2.3h-2.68zM1350.45 293.81h2.68v2.3h-2.68zM1353.13 291.13h5.36v2.3h-5.36zM1363.84 285.77h5.36v2.3h-5.36zM1369.2 283.09h2.68v2.3h-2.68zM1377.24 280.41h5.36v2.3h-5.36zM1382.6 277.73h2.68v2.3h-2.68zM1390.64 275.05h2.68v2.3h-2.68zM1393.32 272.37h5.36v2.3h-5.36zM1404.03 269.69h2.68v2.3h-2.68zM1406.71 267.01h5.36v2.3h-5.36zM1417.43 261.66h8.04v2.3h-8.04zM1430.82 256.3h5.36v2.3h-5.36zM1436.18 253.62h2.68v2.3h-2.68zM1444.22 250.94h5.36v2.3h-5.36zM1449.58 248.26h2.68v2.3h-2.68zM1457.62 245.58h5.36v2.3h-5.36zM1462.97 242.9h2.68v2.3h-2.68zM1471.01 240.22h5.36v2.3h-5.36zM1476.37 237.54h2.68v2.3h-2.68zM1484.41 234.86h5.36v2.3h-5.36zM1489.77 232.19h2.68v2.3h-2.68zM1497.8 229.51h5.36v2.3h-5.36zM1503.16 226.83h2.68v2.3h-2.68zM1511.2 224.15h5.36v2.3h-5.36zM1516.56 221.47h2.68v2.3h-2.68zM1524.6 218.79h5.36v2.3h-5.36zM1529.95 216.11h2.68v2.3h-2.68zM1537.99 213.43h5.36v2.3h-5.36zM1543.35 210.75h2.68v2.3h-2.68zM1551.39 208.07h5.36v2.3h-5.36zM1556.75 205.39h2.68v2.3h-2.68zM1564.78 202.71h5.36v2.3h-5.36zM1570.14 200.03h2.68v2.3h-2.68z"/>
</g>
<g id="panel-VT">
<path class="ax" d="M107.2 546.6V868.6M1.5 868.6H776.8M107.2 868.6v10.4M284.1 868.6v10.4M458.2 868.6v10.4M635.6 868.6v10.4M107.2 734.7h-9.8M107.2 601.1h-9.8"/>
<text class="tk" x="73.1" y="606.8" textLength="37.3" lengthAdjust="spacingAndGlyphs">100</text>
<text class="tk" x="80.1" y="744" textLength="23.4" lengthAdjust="spacingAndGlyphs">50</text>
<text class="lb" transform="translate(41.2 706.3) rotate(-90)" textLength="112.6" lengthAdjust="spacingAndGlyphs">VT score</text>
<text class="tk" x="107.3" y="903.4" textLength="11.5" lengthAdjust="spacingAndGlyphs">0</text>
<text class="tk" x="284.6" y="903.4" textLength="14" lengthAdjust="spacingAndGlyphs">5</text>
<text class="tk" x="456.8" y="903.4" textLength="26.7" lengthAdjust="spacingAndGlyphs">10</text>
<text class="tk" x="634.6" y="903.4" textLength="25.1" lengthAdjust="spacingAndGlyphs">15</text>
<text class="lb" x="390.8" y="936.4" textLength="132.8" lengthAdjust="spacingAndGlyphs">JOA score</text>
<g class="pt"><use href="#m" x="36.7" y="751.4"/><use href="#m" x="160.1" y="701.2"/><use href="#m" x="177.7" y="617.4"/><use href="#m" x="195.3" y="734.7"/><use href="#b" x="230.5" y="701.2"/><use href="#m" x="283.4" y="650.9"/><use href="#w" x="283.4" y="734.7"/><use href="#m" x="301" y="717.9"/><use href="#m" x="301" y="734.7"/><use href="#m" x="318.6" y="684.4"/><use href="#s" x="318.6" y="701.2"/><use href="#m" x="318.6" y="717.9"/><use href="#m" x="318.6" y="734.7"/><use href="#s" x="318.6" y="768.1"/><use href="#m" x="336.3" y="701.2"/><use href="#m" x="336.3" y="717.9"/><use href="#m" x="336.3" y="734.7"/><use href="#z" x="336.3" y="868.6"/><use href="#m" x="353.9" y="684.4"/><use href="#m" x="353.9" y="701.2"/><use href="#m" x="353.9" y="734.7"/><use href="#m" x="353.9" y="751.4"/><use href="#s" x="371.5" y="701.2"/><use href="#m" x="371.5" y="717.9"/><use href="#w" x="371.5" y="734.7"/><use href="#m" x="371.5" y="751.4"/><use href="#m" x="389.1" y="617.4"/><use href="#m" x="389.1" y="667.7"/><use href="#m" x="389.1" y="684.4"/><use href="#b" x="389.1" y="701.2"/><use href="#m" x="389.1" y="717.9"/><use href="#m" x="389.1" y="734.7"/><use href="#m" x="406.7" y="684.4"/><use href="#s" x="406.7" y="701.2"/><use href="#w" x="406.7" y="734.7"/><use href="#m" x="424.4" y="701.2"/><use href="#m" x="424.4" y="717.9"/><use href="#m" x="424.4" y="734.7"/><use href="#s" x="442" y="634.2"/><use href="#m" x="442" y="667.7"/><use href="#s" x="442" y="701.2"/><use href="#m" x="442" y="717.9"/><use href="#m" x="442" y="751.4"/><use href="#w" x="442" y="801.6"/><use href="#m" x="459.6" y="634.2"/><use href="#m" x="459.6" y="667.7"/><use href="#m" x="459.6" y="684.4"/><use href="#m" x="459.6" y="701.2"/><use href="#m" x="459.6" y="717.9"/><use href="#m" x="459.6" y="734.7"/><use href="#m" x="459.6" y="784.9"/><use href="#m" x="459.6" y="835.1"/><use href="#m" x="477.2" y="634.2"/><use href="#m" x="477.2" y="684.4"/><use href="#m" x="477.2" y="701.2"/><use href="#m" x="477.2" y="734.7"/><use href="#m" x="477.2" y="751.4"/><use href="#m" x="494.8" y="667.7"/><use href="#m" x="494.8" y="684.4"/><use href="#s" x="494.8" y="701.2"/><use href="#m" x="494.8" y="717.9"/><use href="#m" x="494.8" y="734.7"/><use href="#m" x="494.8" y="751.4"/><use href="#s" x="494.8" y="768.1"/><use href="#m" x="494.8" y="784.9"/><use href="#m" x="494.8" y="801.6"/><use href="#s" x="494.8" y="835.1"/><use href="#m" x="512.5" y="684.4"/><use href="#m" x="512.5" y="717.9"/><use href="#m" x="512.5" y="734.7"/><use href="#m" x="512.5" y="751.4"/><use href="#b" x="512.5" y="768.1"/><use href="#m" x="530.1" y="684.4"/><use href="#s" x="530.1" y="701.2"/><use href="#m" x="530.1" y="717.9"/><use href="#w" x="530.1" y="734.7"/><use href="#m" x="530.1" y="751.4"/><use href="#s" x="530.1" y="768.1"/><use href="#m" x="547.7" y="684.4"/><use href="#b" x="547.7" y="701.2"/><use href="#m" x="547.7" y="717.9"/><use href="#m" x="547.7" y="734.7"/><use href="#m" x="547.7" y="751.4"/><use href="#m" x="547.7" y="801.6"/><use href="#m" x="565.3" y="650.9"/><use href="#w" x="565.3" y="667.7"/><use href="#m" x="565.3" y="684.4"/><use href="#s" x="565.3" y="701.2"/><use href="#m" x="565.3" y="717.9"/><use href="#w" x="565.3" y="734.7"/><use href="#m" x="565.3" y="751.4"/><use href="#w" x="565.3" y="801.6"/><use href="#m" x="565.3" y="818.4"/><use href="#m" x="582.9" y="667.7"/><use href="#m" x="582.9" y="684.4"/><use href="#b" x="582.9" y="701.2"/><use href="#m" x="582.9" y="717.9"/><use href="#m" x="582.9" y="734.7"/><use href="#m" x="582.9" y="751.4"/><use href="#m" x="600.6" y="617.4"/><use href="#m" x="600.6" y="667.7"/><use href="#m" x="600.6" y="684.4"/><use href="#s" x="600.6" y="701.2"/><use href="#m" x="600.6" y="717.9"/><use href="#w" x="600.6" y="734.7"/><use href="#m" x="600.6" y="751.4"/><use href="#s" x="600.6" y="768.1"/><use href="#m" x="618.2" y="634.2"/><use href="#m" x="618.2" y="684.4"/><use href="#m" x="618.2" y="701.2"/><use href="#m" x="618.2" y="717.9"/><use href="#m" x="618.2" y="734.7"/><use href="#m" x="618.2" y="751.4"/><use href="#m" x="635.8" y="667.7"/><use href="#m" x="635.8" y="684.4"/><use href="#s" x="635.8" y="701.2"/><use href="#m" x="635.8" y="717.9"/><use href="#m" x="635.8" y="734.7"/><use href="#m" x="635.8" y="751.4"/><use href="#s" x="635.8" y="768.1"/><use href="#m" x="635.8" y="784.9"/><use href="#m" x="653.4" y="617.4"/><use href="#m" x="653.4" y="684.4"/><use href="#m" x="653.4" y="717.9"/><use href="#m" x="653.4" y="734.7"/><use href="#m" x="653.4" y="751.4"/><use href="#m" x="653.4" y="768.1"/><use href="#m" x="671" y="667.7"/><use href="#m" x="671" y="684.4"/><use href="#m" x="671" y="701.2"/><use href="#m" x="671" y="717.9"/><use href="#m" x="671" y="734.7"/><use href="#m" x="671" y="751.4"/><use href="#m" x="671" y="768.1"/><use href="#s" x="688.7" y="701.2"/><use href="#m" x="688.7" y="717.9"/><use href="#m" x="706.3" y="650.9"/><use href="#m" x="706.3" y="667.7"/><use href="#m" x="706.3" y="684.4"/><use href="#b" x="706.3" y="701.2"/><use href="#m" x="706.3" y="717.9"/><use href="#m" x="706.3" y="734.7"/><use href="#m" x="706.3" y="751.4"/><use href="#b" x="706.3" y="768.1"/><use href="#m" x="706.3" y="801.6"/></g>
</g>
<g id="panel-GH">
<path class="ax" d="M976.7 546.6V868.6M871.4 868.6H1643.4M976.7 868.6v10.4M1151.3 868.6v10.4M1327.5 868.6v10.4M1503 868.6v10.4M976.7 734.7h-9.8M976.7 601.1h-9.8"/>
<text class="tk" x="943.9" y="606.8" textLength="39.5" lengthAdjust="spacingAndGlyphs">100</text>
<text class="tk" x="948.3" y="744" textLength="27" lengthAdjust="spacingAndGlyphs">50</text>
<text class="lb" transform="translate(910.2 706.6) rotate(-90)" textLength="120.4" lengthAdjust="spacingAndGlyphs">GH score</text>
<text class="tk" x="976.8" y="903.4" textLength="11.7" lengthAdjust="spacingAndGlyphs">0</text>
<text class="tk" x="1151.2" y="903.4" textLength="13.2" lengthAdjust="spacingAndGlyphs">5</text>
<text class="tk" x="1325.5" y="903.4" textLength="22.9" lengthAdjust="spacingAndGlyphs">10</text>
<text class="tk" x="1500" y="903.4" textLength="24.6" lengthAdjust="spacingAndGlyphs">15</text>
<text class="lb" x="1257.2" y="936.4" textLength="132.8" lengthAdjust="spacingAndGlyphs">JOA score</text>
<g class="pt"><use href="#m" x="906.5" y="761.4"/><use href="#w" x="1029.3" y="748"/><use href="#m" x="1046.9" y="729.3"/><use href="#w" x="1064.4" y="707.9"/><use href="#w" x="1099.5" y="729.3"/><use href="#m" x="1152.2" y="734.7"/><use href="#m" x="1152.2" y="748"/><use href="#m" x="1169.7" y="715.9"/><use href="#m" x="1169.7" y="774.8"/><use href="#m" x="1187.2" y="707.9"/><use href="#m" x="1187.2" y="721.3"/><use href="#m" x="1187.2" y="734.7"/><use href="#m" x="1187.2" y="748"/><use href="#m" x="1187.2" y="761.4"/><use href="#m" x="1204.8" y="715.9"/><use href="#m" x="1204.8" y="734.7"/><use href="#m" x="1204.8" y="761.4"/><use href="#m" x="1204.8" y="774.8"/><use href="#m" x="1222.3" y="734.7"/><use href="#m" x="1222.3" y="748"/><use href="#m" x="1239.9" y="715.9"/><use href="#m" x="1239.9" y="721.3"/><use href="#m" x="1239.9" y="729.3"/><use href="#m" x="1239.9" y="734.7"/><use href="#m" x="1239.9" y="761.4"/><use href="#m" x="1257.4" y="702.5"/><use href="#m" x="1257.4" y="707.9"/><use href="#m" x="1257.4" y="721.3"/><use href="#m" x="1257.4" y="729.3"/><use href="#m" x="1257.4" y="734.7"/><use href="#w" x="1257.4" y="748"/><use href="#w" x="1257.4" y="761.4"/><use href="#m" x="1275" y="715.9"/><use href="#m" x="1275" y="729.3"/><use href="#m" x="1275" y="748"/><use href="#m" x="1275" y="774.8"/><use href="#w" x="1292.5" y="721.3"/><use href="#w" x="1292.5" y="734.7"/><use href="#w" x="1292.5" y="748"/><use href="#m" x="1310.1" y="667.7"/><use href="#m" x="1310.1" y="689.1"/><use href="#m" x="1310.1" y="715.9"/><use href="#m" x="1310.1" y="721.3"/><use href="#m" x="1310.1" y="729.3"/><use href="#m" x="1310.1" y="734.7"/><use href="#m" x="1310.1" y="748"/><use href="#m" x="1310.1" y="756.1"/><use href="#m" x="1310.1" y="774.8"/><use href="#w" x="1327.6" y="681.1"/><use href="#w" x="1327.6" y="694.5"/><use href="#m" x="1327.6" y="721.3"/><use href="#m" x="1327.6" y="729.3"/><use href="#m" x="1327.6" y="734.7"/><use href="#m" x="1327.6" y="742.7"/><use href="#m" x="1327.6" y="748"/><use href="#m" x="1327.6" y="756.1"/><use href="#m" x="1327.6" y="761.4"/><use href="#w" x="1327.6" y="788.2"/><use href="#m" x="1345.1" y="702.5"/><use href="#m" x="1345.1" y="729.3"/><use href="#m" x="1345.1" y="734.7"/><use href="#m" x="1345.1" y="748"/><use href="#m" x="1345.1" y="761.4"/><use href="#m" x="1362.7" y="689.1"/><use href="#m" x="1362.7" y="715.9"/><use href="#m" x="1362.7" y="721.3"/><use href="#m" x="1362.7" y="729.3"/><use href="#m" x="1362.7" y="734.7"/><use href="#m" x="1362.7" y="748"/><use href="#w" x="1362.7" y="801.6"/><use href="#w" x="1362.7" y="815"/><use href="#m" x="1380.2" y="721.3"/><use href="#m" x="1380.2" y="729.3"/><use href="#m" x="1380.2" y="734.7"/><use href="#m" x="1380.2" y="761.4"/><use href="#m" x="1380.2" y="801.6"/><use href="#m" x="1397.8" y="689.1"/><use href="#m" x="1397.8" y="702.5"/><use href="#m" x="1397.8" y="721.3"/><use href="#m" x="1397.8" y="729.3"/><use href="#m" x="1397.8" y="734.7"/><use href="#m" x="1397.8" y="742.7"/><use href="#m" x="1397.8" y="748"/><use href="#m" x="1397.8" y="769.5"/><use href="#m" x="1397.8" y="774.8"/><use href="#m" x="1415.3" y="707.9"/><use href="#m" x="1415.3" y="729.3"/><use href="#m" x="1415.3" y="734.7"/><use href="#m" x="1415.3" y="742.7"/><use href="#m" x="1415.3" y="748"/><use href="#m" x="1415.3" y="756.1"/><use href="#m" x="1415.3" y="788.2"/><use href="#m" x="1432.9" y="622.1"/><use href="#m" x="1432.9" y="662.3"/><use href="#m" x="1432.9" y="675.7"/><use href="#m" x="1432.9" y="689.1"/><use href="#m" x="1432.9" y="694.5"/><use href="#m" x="1432.9" y="715.9"/><use href="#m" x="1432.9" y="721.3"/><use href="#m" x="1432.9" y="729.3"/><use href="#m" x="1432.9" y="734.7"/><use href="#m" x="1432.9" y="742.7"/><use href="#m" x="1432.9" y="748"/><use href="#m" x="1432.9" y="756.1"/><use href="#m" x="1432.9" y="761.4"/><use href="#m" x="1432.9" y="774.8"/><use href="#m" x="1432.9" y="801.6"/><use href="#m" x="1450.4" y="715.9"/><use href="#m" x="1450.4" y="721.3"/><use href="#m" x="1450.4" y="729.3"/><use href="#m" x="1450.4" y="742.7"/><use href="#m" x="1450.4" y="748"/><use href="#m" x="1450.4" y="761.4"/><use href="#m" x="1468" y="689.1"/><use href="#m" x="1468" y="702.5"/><use href="#m" x="1468" y="715.9"/><use href="#m" x="1468" y="729.3"/><use href="#m" x="1468" y="734.7"/><use href="#m" x="1468" y="742.7"/><use href="#m" x="1468" y="748"/><use href="#m" x="1468" y="761.4"/><use href="#m" x="1485.5" y="681.1"/><use href="#m" x="1485.5" y="702.5"/><use href="#w" x="1485.5" y="729.3"/><use href="#w" x="1485.5" y="734.7"/><use href="#w" x="1485.5" y="748"/><use href="#w" x="1485.5" y="761.4"/><use href="#m" x="1503.1" y="694.5"/><use href="#m" x="1503.1" y="707.9"/><use href="#m" x="1503.1" y="721.3"/><use href="#m" x="1503.1" y="729.3"/><use href="#m" x="1503.1" y="734.7"/><use href="#m" x="1503.1" y="742.7"/><use href="#m" x="1503.1" y="748"/><use href="#m" x="1503.1" y="756.1"/><use href="#m" x="1503.1" y="761.4"/><use href="#w" x="1520.6" y="635.5"/><use href="#w" x="1520.6" y="715.9"/><use href="#w" x="1520.6" y="729.3"/><use href="#w" x="1520.6" y="748"/><use href="#w" x="1520.6" y="756.1"/><use href="#w" x="1520.6" y="761.4"/><use href="#w" x="1520.6" y="774.8"/><use href="#m" x="1538.1" y="662.3"/><use href="#m" x="1538.1" y="675.7"/><use href="#m" x="1538.1" y="689.1"/><use href="#m" x="1538.1" y="702.5"/><use href="#m" x="1538.1" y="715.9"/><use href="#m" x="1538.1" y="729.3"/><use href="#m" x="1538.1" y="742.7"/><use href="#m" x="1538.1" y="748"/><use href="#m" x="1538.1" y="756.1"/><use href="#m" x="1538.1" y="761.4"/><use href="#m" x="1538.1" y="774.8"/><use href="#w" x="1555.7" y="715.9"/><use href="#w" x="1555.7" y="729.3"/><use href="#m" x="1573.2" y="694.5"/><use href="#m" x="1573.2" y="715.9"/><use href="#m" x="1573.2" y="729.3"/><use href="#m" x="1573.2" y="742.7"/><use href="#m" x="1573.2" y="748"/><use href="#m" x="1573.2" y="756.1"/><use href="#m" x="1573.2" y="761.4"/><use href="#m" x="1573.2" y="774.8"/><use href="#m" x="1573.2" y="788.2"/></g>
</g>
<g id="panel-SF">
<path class="ax" d="M107.2 1002.9V1322.5M1.5 1322.5H776.8M107.2 1322.5v10.4M284.1 1322.5v10.4M458.2 1322.5v10.4M635.6 1322.5v10.4M107.2 1189.5h-9.8M107.2 1057h-9.8"/>
<text class="tk" x="73.1" y="1062" textLength="37.3" lengthAdjust="spacingAndGlyphs">100</text>
<text class="tk" x="80.1" y="1199.2" textLength="23.4" lengthAdjust="spacingAndGlyphs">50</text>
<text class="lb" transform="translate(41.2 1159.5) rotate(-90)" textLength="108.1" lengthAdjust="spacingAndGlyphs">SF score</text>
<text class="tk" x="107.3" y="1357.6" textLength="11.5" lengthAdjust="spacingAndGlyphs">0</text>
<text class="tk" x="284.6" y="1357.6" textLength="14" lengthAdjust="spacingAndGlyphs">5</text>
<text class="tk" x="456.8" y="1357.6" textLength="26.7" lengthAdjust="spacingAndGlyphs">10</text>
<text class="tk" x="634.6" y="1357.6" textLength="25.1" lengthAdjust="spacingAndGlyphs">15</text>
<text class="lb" x="390.8" y="1390.6" textLength="132.8" lengthAdjust="spacingAndGlyphs">JOA score</text>
<g class="pt"><use href="#m" x="36.7" y="1189.5"/><use href="#m" x="160.1" y="1222.8"/><use href="#s" x="177.7" y="1123.1"/><use href="#m" x="195.3" y="1156.3"/><use href="#m" x="230.5" y="1222.8"/><use href="#w" x="283.4" y="1156.3"/><use href="#s" x="283.4" y="1189.5"/><use href="#m" x="283.4" y="1222.8"/><use href="#m" x="301" y="1089.8"/><use href="#m" x="301" y="1189.5"/><use href="#s" x="318.6" y="1056.6"/><use href="#m" x="318.6" y="1156.3"/><use href="#s" x="318.6" y="1189.5"/><use href="#m" x="318.6" y="1222.8"/><use href="#m" x="336.3" y="1156.3"/><use href="#m" x="336.3" y="1189.5"/><use href="#m" x="336.3" y="1289.3"/><use href="#m" x="353.9" y="1189.5"/><use href="#s" x="371.5" y="1189.5"/><use href="#m" x="371.5" y="1222.8"/><use href="#s" x="371.5" y="1256"/><use href="#b" x="389.1" y="1123.1"/><use href="#m" x="389.1" y="1156.3"/><use href="#b" x="389.1" y="1189.5"/><use href="#w" x="406.7" y="1156.3"/><use href="#s" x="406.7" y="1189.5"/><use href="#m" x="406.7" y="1222.8"/><use href="#m" x="424.4" y="1056.6"/><use href="#b" x="424.4" y="1123.1"/><use href="#m" x="424.4" y="1156.3"/><use href="#m" x="424.4" y="1222.8"/><use href="#m" x="424.4" y="1256"/><use href="#s" x="442" y="1123.1"/><use href="#w" x="442" y="1156.3"/><use href="#s" x="442" y="1189.5"/><use href="#m" x="442" y="1222.8"/><use href="#s" x="442" y="1256"/><use href="#m" x="459.6" y="1123.1"/><use href="#m" x="459.6" y="1156.3"/><use href="#m" x="459.6" y="1189.5"/><use href="#m" x="459.6" y="1222.8"/><use href="#m" x="459.6" y="1256"/><use href="#m" x="477.2" y="1156.3"/><use href="#m" x="477.2" y="1189.5"/><use href="#m" x="477.2" y="1256"/><use href="#m" x="494.8" y="1156.3"/><use href="#s" x="494.8" y="1189.5"/><use href="#m" x="494.8" y="1222.8"/><use href="#m" x="512.5" y="1156.3"/><use href="#m" x="512.5" y="1189.5"/><use href="#m" x="512.5" y="1222.8"/><use href="#m" x="512.5" y="1256"/><use href="#w" x="530.1" y="1089.8"/><use href="#s" x="530.1" y="1123.1"/><use href="#w" x="530.1" y="1156.3"/><use href="#s" x="530.1" y="1189.5"/><use href="#m" x="530.1" y="1222.8"/><use href="#b" x="547.7" y="1056.6"/><use href="#m" x="547.7" y="1156.3"/><use href="#b" x="547.7" y="1189.5"/><use href="#m" x="547.7" y="1222.8"/><use href="#s" x="565.3" y="1123.1"/><use href="#w" x="565.3" y="1156.3"/><use href="#s" x="565.3" y="1189.5"/><use href="#w" x="565.3" y="1222.8"/><use href="#m" x="565.3" y="1289.3"/><use href="#b" x="582.9" y="1123.1"/><use href="#m" x="582.9" y="1156.3"/><use href="#b" x="582.9" y="1189.5"/><use href="#m" x="582.9" y="1222.8"/><use href="#s" x="600.6" y="1189.5"/><use href="#m" x="600.6" y="1222.8"/><use href="#s" x="600.6" y="1256"/><use href="#b" x="618.2" y="1123.1"/><use href="#m" x="618.2" y="1156.3"/><use href="#m" x="618.2" y="1189.5"/><use href="#m" x="618.2" y="1222.8"/><use href="#m" x="635.8" y="1156.3"/><use href="#s" x="635.8" y="1189.5"/><use href="#m" x="635.8" y="1222.8"/><use href="#m" x="653.4" y="1056.6"/><use href="#m" x="653.4" y="1156.3"/><use href="#m" x="653.4" y="1189.5"/><use href="#m" x="653.4" y="1222.8"/><use href="#m" x="653.4" y="1256"/><use href="#m" x="671" y="1156.3"/><use href="#m" x="671" y="1189.5"/><use href="#m" x="671" y="1222.8"/><use href="#m" x="671" y="1256"/><use href="#w" x="688.7" y="1156.3"/><use href="#s" x="688.7" y="1189.5"/><use href="#m" x="688.7" y="1222.8"/><use href="#m" x="706.3" y="1089.8"/><use href="#b" x="706.3" y="1123.1"/><use href="#m" x="706.3" y="1156.3"/><use href="#b" x="706.3" y="1189.5"/><use href="#m" x="706.3" y="1222.8"/><use href="#m" x="706.3" y="1256"/></g>
</g>
<g id="panel-RE">
<path class="ax" d="M976.7 1002.9V1322.5M871.4 1322.5H1643.4M976.7 1322.5v10.4M1151.3 1322.5v10.4M1327.5 1322.5v10.4M1503 1322.5v10.4M976.7 1189.5h-9.8M976.7 1057h-9.8"/>
<text class="tk" x="943.9" y="1062" textLength="39.5" lengthAdjust="spacingAndGlyphs">100</text>
<text class="tk" x="948.3" y="1199.2" textLength="27" lengthAdjust="spacingAndGlyphs">50</text>
<text class="lb" transform="translate(910.2 1161.1) rotate(-90)" textLength="115.6" lengthAdjust="spacingAndGlyphs">RE score</text>
<text class="tk" x="976.8" y="1357.6" textLength="11.7" lengthAdjust="spacingAndGlyphs">0</text>
<text class="tk" x="1151.2" y="1357.6" textLength="13.2" lengthAdjust="spacingAndGlyphs">5</text>
<text class="tk" x="1325.5" y="1357.6" textLength="22.9" lengthAdjust="spacingAndGlyphs">10</text>
<text class="tk" x="1500" y="1357.6" textLength="24.6" lengthAdjust="spacingAndGlyphs">15</text>
<text class="lb" x="1257.2" y="1390.6" textLength="132.8" lengthAdjust="spacingAndGlyphs">JOA score</text>
<g class="pt"><use href="#m" x="906.5" y="1256"/><use href="#s" x="1029.3" y="1189.6"/><use href="#z" x="1046.9" y="1322.5"/><use href="#s" x="1064.4" y="1256"/><use href="#s" x="1099.5" y="1056.6"/><use href="#m" x="1152.2" y="1189.6"/><use href="#m" x="1152.2" y="1256"/><use href="#z" x="1152.2" y="1322.5"/><use href="#m" x="1169.7" y="1211.7"/><use href="#z" x="1169.7" y="1322.5"/><use href="#m" x="1187.2" y="1056.6"/><use href="#m" x="1187.2" y="1189.6"/><use href="#m" x="1187.2" y="1211.7"/><use href="#m" x="1187.2" y="1256"/><use href="#z" x="1187.2" y="1322.5"/><use href="#m" x="1204.8" y="1056.6"/><use href="#m" x="1204.8" y="1189.6"/><use href="#m" x="1204.8" y="1256"/><use href="#z" x="1204.8" y="1322.5"/><use href="#m" x="1222.3" y="1056.6"/><use href="#m" x="1222.3" y="1211.7"/><use href="#m" x="1222.3" y="1256"/><use href="#m" x="1222.3" y="1278.2"/><use href="#m" x="1239.9" y="1189.6"/><use href="#m" x="1239.9" y="1256"/><use href="#z" x="1239.9" y="1322.5"/><use href="#s" x="1257.4" y="1078.8"/><use href="#s" x="1257.4" y="1189.6"/><use href="#s" x="1257.4" y="1233.9"/><use href="#s" x="1257.4" y="1256"/><use href="#s" x="1257.4" y="1300.3"/><use href="#b" x="1275" y="1056.6"/><use href="#b" x="1275" y="1145.2"/><use href="#b" x="1275" y="1167.4"/><use href="#m" x="1275" y="1256"/><use href="#s" x="1292.5" y="1056.6"/><use href="#s" x="1292.5" y="1256"/><use href="#s" x="1292.5" y="1278.2"/><use href="#z" x="1292.5" y="1322.5"/><use href="#b" x="1310.1" y="1123.1"/><use href="#b" x="1310.1" y="1167.4"/><use href="#m" x="1310.1" y="1233.9"/><use href="#m" x="1310.1" y="1256"/><use href="#z" x="1310.1" y="1322.5"/><use href="#s" x="1327.6" y="1056.6"/><use href="#s" x="1327.6" y="1145.2"/><use href="#s" x="1327.6" y="1167.4"/><use href="#s" x="1327.6" y="1189.6"/><use href="#s" x="1327.6" y="1211.7"/><use href="#s" x="1327.6" y="1233.9"/><use href="#s" x="1327.6" y="1256"/><use href="#z" x="1327.6" y="1322.5"/><use href="#m" x="1345.1" y="1056.6"/><use href="#b" x="1345.1" y="1123.1"/><use href="#b" x="1345.1" y="1145.2"/><use href="#m" x="1345.1" y="1189.6"/><use href="#z" x="1345.1" y="1322.5"/><use href="#s" x="1362.7" y="1056.6"/><use href="#s" x="1362.7" y="1123.1"/><use href="#s" x="1362.7" y="1189.6"/><use href="#s" x="1362.7" y="1233.9"/><use href="#s" x="1362.7" y="1256"/><use href="#m" x="1380.2" y="1056.6"/><use href="#m" x="1380.2" y="1145.2"/><use href="#m" x="1380.2" y="1189.6"/><use href="#m" x="1380.2" y="1211.7"/><use href="#m" x="1380.2" y="1256"/><use href="#m" x="1397.8" y="1056.6"/><use href="#m" x="1397.8" y="1078.8"/><use href="#m" x="1397.8" y="1123.1"/><use href="#m" x="1397.8" y="1145.2"/><use href="#m" x="1397.8" y="1167.4"/><use href="#m" x="1397.8" y="1189.6"/><use href="#m" x="1397.8" y="1256"/><use href="#s" x="1415.3" y="1056.6"/><use href="#s" x="1415.3" y="1123.1"/><use href="#s" x="1415.3" y="1189.6"/><use href="#s" x="1415.3" y="1233.9"/><use href="#s" x="1415.3" y="1256"/><use href="#m" x="1432.9" y="1056.6"/><use href="#m" x="1432.9" y="1078.8"/><use href="#m" x="1432.9" y="1100.9"/><use href="#m" x="1432.9" y="1123.1"/><use href="#m" x="1432.9" y="1145.2"/><use href="#m" x="1432.9" y="1167.4"/><use href="#m" x="1432.9" y="1189.6"/><use href="#m" x="1432.9" y="1211.7"/><use href="#m" x="1432.9" y="1233.9"/><use href="#m" x="1432.9" y="1256"/><use href="#m" x="1432.9" y="1300.3"/><use href="#s" x="1450.4" y="1056.6"/><use href="#s" x="1450.4" y="1123.1"/><use href="#s" x="1450.4" y="1145.2"/><use href="#s" x="1450.4" y="1189.6"/><use href="#s" x="1450.4" y="1256"/><use href="#m" x="1468" y="1056.6"/><use href="#m" x="1468" y="1078.8"/><use href="#m" x="1468" y="1100.9"/><use href="#m" x="1468" y="1123.1"/><use href="#b" x="1468" y="1145.2"/><use href="#b" x="1468" y="1167.4"/><use href="#m" x="1468" y="1189.6"/><use href="#m" x="1468" y="1211.7"/><use href="#m" x="1468" y="1300.3"/><use href="#s" x="1485.5" y="1056.6"/><use href="#s" x="1485.5" y="1123.1"/><use href="#s" x="1485.5" y="1189.6"/><use href="#s" x="1485.5" y="1211.7"/><use href="#z" x="1485.5" y="1322.5"/><use href="#m" x="1503.1" y="1056.6"/><use href="#m" x="1503.1" y="1078.8"/><use href="#b" x="1503.1" y="1123.1"/><use href="#b" x="1503.1" y="1145.2"/><use href="#b" x="1503.1" y="1167.4"/><use href="#b" x="1503.1" y="1189.6"/><use href="#m" x="1503.1" y="1233.9"/><use href="#m" x="1503.1" y="1300.3"/><use href="#s" x="1520.6" y="1056.6"/><use href="#s" x="1520.6" y="1078.8"/><use href="#s" x="1520.6" y="1189.6"/><use href="#b" x="1538.1" y="1056.6"/><use href="#b" x="1538.1" y="1078.8"/><use href="#b" x="1538.1" y="1100.9"/><use href="#b" x="1538.1" y="1123.1"/><use href="#b" x="1538.1" y="1167.4"/><use href="#b" x="1538.1" y="1189.6"/><use href="#b" x="1538.1" y="1233.9"/><use href="#s" x="1555.7" y="1056.6"/><use href="#s" x="1555.7" y="1078.8"/><use href="#s" x="1555.7" y="1100.9"/><use href="#b" x="1573.2" y="1056.6"/><use href="#b" x="1573.2" y="1078.8"/><use href="#b" x="1573.2" y="1100.9"/><use href="#b" x="1573.2" y="1123.1"/><use href="#b" x="1573.2" y="1145.2"/><use href="#b" x="1573.2" y="1189.6"/><use href="#b" x="1573.2" y="1233.9"/></g>
<path class="rl" d="M983.4 1321.35h2.68v2.3h-2.68zM986.08 1318.67h8.04v2.3h-8.04zM994.11 1315.99h5.36v2.3h-5.36zM999.47 1313.31h8.04v2.3h-8.04zM1007.51 1310.63h5.36v2.3h-5.36zM1012.87 1307.95h8.04v2.3h-8.04zM1020.91 1305.27h5.36v2.3h-5.36zM1026.27 1302.6h8.04v2.3h-8.04zM1034.3 1299.92h8.04v2.3h-8.04zM1042.34 1297.24h5.36v2.3h-5.36zM1047.7 1294.56h8.04v2.3h-8.04zM1055.74 1291.88h5.36v2.3h-5.36zM1061.09 1289.2h8.04v2.3h-8.04zM1069.13 1286.52h5.36v2.3h-5.36zM1074.49 1283.84h8.04v2.3h-8.04zM1082.53 1281.16h5.36v2.3h-5.36zM1087.89 1278.48h8.04v2.3h-8.04zM1095.92 1275.8h5.36v2.3h-5.36zM1101.28 1273.12h8.04v2.3h-8.04zM1109.32 1270.45h5.36v2.3h-5.36zM1114.68 1267.77h8.04v2.3h-8.04zM1122.72 1265.09h5.36v2.3h-5.36zM1128.07 1262.41h8.04v2.3h-8.04zM1136.11 1259.73h5.36v2.3h-5.36zM1141.47 1257.05h8.04v2.3h-8.04zM1149.51 1254.37h5.36v2.3h-5.36zM1154.87 1251.69h8.04v2.3h-8.04zM1162.9 1249.01h5.36v2.3h-5.36zM1168.26 1246.33h8.04v2.3h-8.04zM1176.3 1243.65h5.36v2.3h-5.36zM1181.66 1240.97h8.04v2.3h-8.04zM1189.7 1238.29h5.36v2.3h-5.36zM1195.05 1235.62h8.04v2.3h-8.04zM1203.09 1232.94h5.36v2.3h-5.36zM1208.45 1230.26h8.04v2.3h-8.04zM1216.49 1227.58h8.04v2.3h-8.04zM1224.53 1224.9h5.36v2.3h-5.36zM1229.88 1222.22h8.04v2.3h-8.04zM1237.92 1219.54h5.36v2.3h-5.36zM1243.28 1216.86h8.04v2.3h-8.04zM1251.32 1214.18h5.36v2.3h-5.36zM1256.68 1211.5h8.04v2.3h-8.04zM1264.71 1208.82h5.36v2.3h-5.36zM1270.07 1206.14h8.04v2.3h-8.04zM1278.11 1203.47h5.36v2.3h-5.36zM1283.47 1200.79h8.04v2.3h-8.04zM1291.51 1198.11h5.36v2.3h-5.36zM1296.86 1195.43h8.04v2.3h-8.04zM1304.9 1192.75h5.36v2.3h-5.36zM1310.26 1190.07h8.04v2.3h-8.04zM1318.3 1187.39h5.36v2.3h-5.36zM1323.66 1184.71h8.04v2.3h-8.04zM1331.69 1182.03h5.36v2.3h-5.36zM1337.05 1179.35h8.04v2.3h-8.04zM1345.09 1176.67h5.36v2.3h-5.36zM1350.45 1173.99h8.04v2.3h-8.04zM1358.49 1171.31h5.36v2.3h-5.36zM1363.84 1168.64h8.04v2.3h-8.04zM1371.88 1165.96h5.36v2.3h-5.36zM1377.24 1163.28h8.04v2.3h-8.04zM1385.28 1160.6h5.36v2.3h-5.36zM1390.64 1157.92h8.04v2.3h-8.04zM1398.67 1155.24h8.04v2.3h-8.04zM1406.71 1152.56h5.36v2.3h-5.36zM1412.07 1149.88h8.04v2.3h-8.04zM1420.11 1147.2h5.36v2.3h-5.36zM1425.47 1144.52h8.04v2.3h-8.04zM1433.5 1141.84h5.36v2.3h-5.36zM1438.86 1139.16h8.04v2.3h-8.04zM1446.9 1136.49h5.36v2.3h-5.36zM1452.26 1133.81h8.04v2.3h-8.04zM1460.3 1131.13h5.36v2.3h-5.36zM1465.65 1128.45h8.04v2.3h-8.04zM1473.69 1125.77h5.36v2.3h-5.36zM1479.05 1123.09h8.04v2.3h-8.04zM1487.09 1120.41h5.36v2.3h-5.36zM1492.45 1117.73h8.04v2.3h-8.04zM1500.48 1115.05h5.36v2.3h-5.36zM1505.84 1112.37h8.04v2.3h-8.04zM1513.88 1109.69h5.36v2.3h-5.36zM1519.24 1107.01h8.04v2.3h-8.04zM1527.28 1104.33h5.36v2.3h-5.36zM1532.63 1101.66h8.04v2.3h-8.04zM1540.67 1098.98h5.36v2.3h-5.36zM1546.03 1096.3h8.04v2.3h-8.04zM1554.07 1093.62h5.36v2.3h-5.36zM1559.43 1090.94h8.04v2.3h-8.04zM1567.46 1088.26h5.36v2.3h-5.36zM1572.82 1085.58h2.68v2.3h-2.68z"/>
<path class="ci" d="M983.4 1289.2h5.36v2.3h-5.36zM994.11 1286.52h5.36v2.3h-5.36zM999.47 1283.84h2.68v2.3h-2.68zM1007.51 1281.16h8.04v2.3h-8.04zM1020.91 1278.48h2.68v2.3h-2.68zM1023.59 1275.8h5.36v2.3h-5.36zM1034.3 1273.12h5.36v2.3h-5.36zM1039.66 1270.45h2.68v2.3h-2.68zM1047.7 1267.77h8.04v2.3h-8.04zM1061.09 1265.09h2.68v2.3h-2.68zM1063.77 1262.41h5.36v2.3h-5.36zM1074.49 1259.73h5.36v2.3h-5.36zM1079.85 1257.05h2.68v2.3h-2.68zM1087.89 1254.37h8.04v2.3h-8.04zM1101.28 1251.69h2.68v2.3h-2.68zM1103.96 1249.01h5.36v2.3h-5.36zM1114.68 1246.33h5.36v2.3h-5.36zM1120.04 1243.65h2.68v2.3h-2.68zM1128.07 1240.97h8.04v2.3h-8.04zM1141.47 1238.29h2.68v2.3h-2.68zM1144.15 1235.62h5.36v2.3h-5.36zM1154.87 1232.94h5.36v2.3h-5.36zM1160.23 1230.26h2.68v2.3h-2.68zM1168.26 1227.58h8.04v2.3h-8.04zM1181.66 1224.9h2.68v2.3h-2.68zM1184.34 1222.22h5.36v2.3h-5.36zM1195.05 1219.54h5.36v2.3h-5.36zM1200.41 1216.86h2.68v2.3h-2.68zM1208.45 1214.18h5.36v2.3h-5.36zM1213.81 1211.5h2.68v2.3h-2.68zM1221.85 1208.82h8.04v2.3h-8.04zM1235.24 1206.14h2.68v2.3h-2.68zM1237.92 1203.47h5.36v2.3h-5.36zM1248.64 1200.79h5.36v2.3h-5.36zM1254 1198.11h2.68v2.3h-2.68zM1262.03 1195.43h8.04v2.3h-8.04zM1275.43 1192.75h2.68v2.3h-2.68zM1278.11 1190.07h5.36v2.3h-5.36zM1288.83 1187.39h2.68v2.3h-2.68zM1291.51 1184.71h5.36v2.3h-5.36zM1302.22 1182.03h5.36v2.3h-5.36zM1307.58 1179.35h2.68v2.3h-2.68zM1315.62 1176.67h5.36v2.3h-5.36zM1320.98 1173.99h2.68v2.3h-2.68zM1329.01 1171.31h8.04v2.3h-8.04zM1342.41 1168.64h2.68v2.3h-2.68zM1345.09 1165.96h5.36v2.3h-5.36zM1355.81 1163.28h2.68v2.3h-2.68zM1358.49 1160.6h5.36v2.3h-5.36zM1369.2 1157.92h2.68v2.3h-2.68zM1371.88 1155.24h5.36v2.3h-5.36zM1382.6 1152.56h5.36v2.3h-5.36zM1387.96 1149.88h2.68v2.3h-2.68zM1395.99 1147.2h5.36v2.3h-5.36zM1401.35 1144.52h2.68v2.3h-2.68zM1409.39 1141.84h5.36v2.3h-5.36zM1414.75 1139.16h2.68v2.3h-2.68zM1422.79 1136.49h5.36v2.3h-5.36zM1428.15 1133.81h2.68v2.3h-2.68zM1436.18 1131.13h5.36v2.3h-5.36zM1441.54 1128.45h2.68v2.3h-2.68zM1449.58 1125.77h5.36v2.3h-5.36zM1454.94 1123.09h2.68v2.3h-2.68zM1462.97 1120.41h2.68v2.3h-2.68zM1465.65 1117.73h5.36v2.3h-5.36zM1476.37 1115.05h2.68v2.3h-2.68zM1479.05 1112.37h5.36v2.3h-5.36zM1489.77 1109.69h2.68v2.3h-2.68zM1492.45 1107.01h5.36v2.3h-5.36zM1503.16 1104.33h2.68v2.3h-2.68zM1505.84 1101.66h5.36v2.3h-5.36zM1516.56 1096.3h5.36v2.3h-5.36zM1521.92 1093.62h2.68v2.3h-2.68zM1529.95 1090.94h5.36v2.3h-5.36zM1535.31 1088.26h2.68v2.3h-2.68zM1543.35 1085.58h5.36v2.3h-5.36zM1548.71 1082.9h2.68v2.3h-2.68zM1556.75 1080.22h2.68v2.3h-2.68zM1559.43 1077.54h5.36v2.3h-5.36zM1570.14 1074.86h2.68v2.3h-2.68zM1572.82 1072.18h2.68v2.3h-2.68z"/>
<path class="ci" d="M1055.74 1318.67h2.68v2.3h-2.68zM1058.42 1315.99h5.36v2.3h-5.36zM1069.13 1313.31h2.68v2.3h-2.68zM1071.81 1310.63h5.36v2.3h-5.36zM1082.53 1305.27h5.36v2.3h-5.36zM1087.89 1302.6h2.68v2.3h-2.68zM1095.92 1299.92h2.68v2.3h-2.68zM1098.6 1297.24h5.36v2.3h-5.36zM1109.32 1294.56h2.68v2.3h-2.68zM1112 1291.88h5.36v2.3h-5.36zM1122.72 1286.52h5.36v2.3h-5.36zM1128.07 1283.84h2.68v2.3h-2.68zM1136.11 1281.16h5.36v2.3h-5.36zM1141.47 1278.48h2.68v2.3h-2.68zM1149.51 1275.8h2.68v2.3h-2.68zM1152.19 1273.12h5.36v2.3h-5.36zM1162.9 1270.45h2.68v2.3h-2.68zM1165.58 1267.77h5.36v2.3h-5.36zM1176.3 1262.41h5.36v2.3h-5.36zM1181.66 1259.73h2.68v2.3h-2.68zM1189.7 1257.05h5.36v2.3h-5.36zM1195.05 1254.37h2.68v2.3h-2.68zM1203.09 1251.69h2.68v2.3h-2.68zM1205.77 1249.01h5.36v2.3h-5.36zM1216.49 1243.65h8.04v2.3h-8.04zM1229.88 1238.29h5.36v2.3h-5.36zM1235.24 1235.62h2.68v2.3h-2.68zM1243.28 1232.94h5.36v2.3h-5.36zM1248.64 1230.26h2.68v2.3h-2.68zM1256.68 1227.58h2.68v2.3h-2.68zM1259.36 1224.9h5.36v2.3h-5.36zM1270.07 1222.22h2.68v2.3h-2.68zM1272.75 1219.54h5.36v2.3h-5.36zM1283.47 1214.18h5.36v2.3h-5.36zM1288.83 1211.5h2.68v2.3h-2.68zM1296.86 1208.82h5.36v2.3h-5.36zM1302.22 1206.14h2.68v2.3h-2.68zM1310.26 1203.47h2.68v2.3h-2.68zM1312.94 1200.79h5.36v2.3h-5.36zM1323.66 1198.11h2.68v2.3h-2.68zM1326.34 1195.43h5.36v2.3h-5.36zM1337.05 1192.75h2.68v2.3h-2.68zM1339.73 1190.07h5.36v2.3h-5.36zM1350.45 1184.71h8.04v2.3h-8.04zM1363.84 1179.35h8.04v2.3h-8.04zM1377.24 1173.99h5.36v2.3h-5.36zM1382.6 1171.31h2.68v2.3h-2.68zM1390.64 1168.64h5.36v2.3h-5.36zM1395.99 1165.96h2.68v2.3h-2.68zM1404.03 1163.28h5.36v2.3h-5.36zM1409.39 1160.6h2.68v2.3h-2.68zM1417.43 1157.92h5.36v2.3h-5.36zM1422.79 1155.24h2.68v2.3h-2.68zM1430.82 1152.56h5.36v2.3h-5.36zM1436.18 1149.88h2.68v2.3h-2.68zM1444.22 1147.2h8.04v2.3h-8.04zM1457.62 1141.84h8.04v2.3h-8.04zM1471.01 1139.16h2.68v2.3h-2.68zM1473.69 1136.49h5.36v2.3h-5.36zM1484.41 1133.81h2.68v2.3h-2.68zM1487.09 1131.13h5.36v2.3h-5.36zM1497.8 1128.45h2.68v2.3h-2.68zM1500.48 1125.77h5.36v2.3h-5.36zM1511.2 1123.09h5.36v2.3h-5.36zM1516.56 1120.41h2.68v2.3h-2.68zM1524.6 1117.73h8.04v2.3h-8.04zM1537.99 1112.37h8.04v2.3h-8.04zM1551.39 1109.69h2.68v2.3h-2.68zM1554.07 1107.01h5.36v2.3h-5.36zM1564.78 1104.33h5.36v2.3h-5.36zM1570.14 1101.66h2.68v2.3h-2.68z"/>
</g>
<g id="panel-BP">
<path class="ax" d="M107.2 1450.9V1773.1M1.5 1773.1H776.8M107.2 1773.1v10.4M284.1 1773.1v10.4M458.2 1773.1v10.4M635.6 1773.1v10.4M107.2 1639h-9.8M107.2 1505.4h-9.8"/>
<text class="tk" x="73.1" y="1511.2" textLength="37.3" lengthAdjust="spacingAndGlyphs">100</text>
<text class="tk" x="80.1" y="1648.2" textLength="23.4" lengthAdjust="spacingAndGlyphs">50</text>
<text class="lb" transform="translate(41.2 1609.3) rotate(-90)" textLength="116.4" lengthAdjust="spacingAndGlyphs">BP score</text>
<text class="tk" x="107.3" y="1808.4" textLength="11.5" lengthAdjust="spacingAndGlyphs">0</text>
<text class="tk" x="284.6" y="1808.4" textLength="14" lengthAdjust="spacingAndGlyphs">5</text>
<text class="tk" x="456.8" y="1808.4" textLength="26.7" lengthAdjust="spacingAndGlyphs">10</text>
<text class="tk" x="634.6" y="1808.4" textLength="25.1" lengthAdjust="spacingAndGlyphs">15</text>
<text class="lb" x="390.8" y="1841.4" textLength="132.8" lengthAdjust="spacingAndGlyphs">JOA score</text>
<g class="pt"><use href="#m" x="36.7" y="1663.2"/><use href="#m" x="160.1" y="1714.1"/><use href="#Z" x="177.7" y="1773.1"/><use href="#m" x="195.3" y="1714.1"/><use href="#m" x="230.5" y="1505"/><use href="#m" x="283.4" y="1601.5"/><use href="#m" x="283.4" y="1633.7"/><use href="#m" x="301" y="1660.5"/><use href="#m" x="301" y="1714.1"/><use href="#m" x="318.6" y="1633.7"/><use href="#m" x="318.6" y="1660.5"/><use href="#m" x="318.6" y="1690"/><use href="#w" x="318.6" y="1714.1"/><use href="#m" x="318.6" y="1740.9"/><use href="#m" x="318.6" y="1746.3"/><use href="#z" x="318.6" y="1773.1"/><use href="#w" x="336.3" y="1660.5"/><use href="#m" x="336.3" y="1690"/><use href="#m" x="336.3" y="1714.1"/><use href="#m" x="336.3" y="1740.9"/><use href="#z" x="336.3" y="1773.1"/><use href="#m" x="353.9" y="1558.6"/><use href="#m" x="353.9" y="1660.5"/><use href="#m" x="353.9" y="1687.3"/><use href="#m" x="353.9" y="1714.1"/><use href="#z" x="353.9" y="1773.1"/><use href="#m" x="371.5" y="1585.4"/><use href="#w" x="371.5" y="1687.3"/><use href="#w" x="371.5" y="1740.9"/><use href="#Z" x="371.5" y="1773.1"/><use href="#m" x="389.1" y="1580.1"/><use href="#m" x="389.1" y="1606.9"/><use href="#m" x="389.1" y="1628.3"/><use href="#m" x="389.1" y="1660.5"/><use href="#m" x="389.1" y="1690"/><use href="#m" x="406.7" y="1505"/><use href="#m" x="406.7" y="1601.5"/><use href="#m" x="406.7" y="1606.9"/><use href="#w" x="406.7" y="1633.7"/><use href="#w" x="406.7" y="1690"/><use href="#m" x="424.4" y="1505"/><use href="#m" x="424.4" y="1663.2"/><use href="#m" x="424.4" y="1714.1"/><use href="#z" x="424.4" y="1773.1"/><use href="#m" x="442" y="1505"/><use href="#m" x="442" y="1574.7"/><use href="#m" x="442" y="1633.7"/><use href="#m" x="442" y="1663.2"/><use href="#w" x="442" y="1690"/><use href="#w" x="442" y="1714.1"/><use href="#w" x="442" y="1740.9"/><use href="#m" x="459.6" y="1505"/><use href="#m" x="459.6" y="1574.7"/><use href="#m" x="459.6" y="1580.1"/><use href="#m" x="459.6" y="1585.4"/><use href="#w" x="459.6" y="1633.7"/><use href="#m" x="459.6" y="1663.2"/><use href="#m" x="459.6" y="1690"/><use href="#m" x="459.6" y="1714.1"/><use href="#m" x="459.6" y="1740.9"/><use href="#m" x="459.6" y="1746.3"/><use href="#z" x="459.6" y="1773.1"/><use href="#m" x="477.2" y="1574.7"/><use href="#m" x="477.2" y="1585.4"/><use href="#m" x="477.2" y="1633.7"/><use href="#m" x="477.2" y="1660.5"/><use href="#m" x="477.2" y="1687.3"/><use href="#m" x="477.2" y="1714.1"/><use href="#z" x="477.2" y="1773.1"/><use href="#m" x="494.8" y="1606.9"/><use href="#m" x="494.8" y="1633.7"/><use href="#w" x="494.8" y="1687.3"/><use href="#m" x="494.8" y="1714.1"/><use href="#m" x="494.8" y="1746.3"/><use href="#m" x="512.5" y="1547.9"/><use href="#m" x="512.5" y="1601.5"/><use href="#m" x="512.5" y="1606.9"/><use href="#m" x="512.5" y="1633.7"/><use href="#m" x="512.5" y="1660.5"/><use href="#m" x="512.5" y="1714.1"/><use href="#m" x="530.1" y="1505"/><use href="#m" x="530.1" y="1574.7"/><use href="#m" x="530.1" y="1580.1"/><use href="#m" x="530.1" y="1606.9"/><use href="#w" x="530.1" y="1633.7"/><use href="#w" x="530.1" y="1660.5"/><use href="#m" x="547.7" y="1505"/><use href="#m" x="547.7" y="1606.9"/><use href="#m" x="547.7" y="1663.2"/><use href="#w" x="547.7" y="1687.3"/><use href="#m" x="547.7" y="1714.1"/><use href="#m" x="547.7" y="1746.3"/><use href="#z" x="547.7" y="1773.1"/><use href="#w" x="565.3" y="1505"/><use href="#w" x="565.3" y="1547.9"/><use href="#w" x="565.3" y="1558.6"/><use href="#w" x="565.3" y="1580.1"/><use href="#m" x="565.3" y="1601.5"/><use href="#w" x="565.3" y="1606.9"/><use href="#w" x="565.3" y="1633.7"/><use href="#m" x="565.3" y="1636.4"/><use href="#m" x="565.3" y="1663.2"/><use href="#w" x="565.3" y="1687.3"/><use href="#w" x="565.3" y="1714.1"/><use href="#Z" x="565.3" y="1773.1"/><use href="#m" x="582.9" y="1505"/><use href="#m" x="582.9" y="1547.9"/><use href="#w" x="582.9" y="1606.9"/><use href="#m" x="582.9" y="1633.7"/><use href="#m" x="582.9" y="1663.2"/><use href="#w" x="582.9" y="1687.3"/><use href="#m" x="582.9" y="1714.1"/><use href="#m" x="582.9" y="1740.9"/><use href="#m" x="600.6" y="1505"/><use href="#m" x="600.6" y="1574.7"/><use href="#m" x="600.6" y="1580.1"/><use href="#w" x="600.6" y="1606.9"/><use href="#w" x="600.6" y="1633.7"/><use href="#w" x="600.6" y="1663.2"/><use href="#w" x="600.6" y="1714.1"/><use href="#Z" x="600.6" y="1773.1"/><use href="#m" x="618.2" y="1547.9"/><use href="#m" x="618.2" y="1558.6"/><use href="#m" x="618.2" y="1580.1"/><use href="#m" x="618.2" y="1601.5"/><use href="#m" x="618.2" y="1606.9"/><use href="#m" x="618.2" y="1663.2"/><use href="#z" x="618.2" y="1773.1"/><use href="#m" x="635.8" y="1505"/><use href="#m" x="635.8" y="1574.7"/><use href="#m" x="635.8" y="1580.1"/><use href="#m" x="635.8" y="1601.5"/><use href="#m" x="635.8" y="1606.9"/><use href="#m" x="635.8" y="1633.7"/><use href="#w" x="635.8" y="1660.5"/><use href="#m" x="635.8" y="1687.3"/><use href="#m" x="635.8" y="1714.1"/><use href="#m" x="653.4" y="1547.9"/><use href="#m" x="653.4" y="1574.7"/><use href="#m" x="653.4" y="1580.1"/><use href="#m" x="653.4" y="1606.9"/><use href="#w" x="653.4" y="1660.5"/><use href="#m" x="671" y="1505"/><use href="#m" x="671" y="1547.9"/><use href="#m" x="671" y="1574.7"/><use href="#m" x="671" y="1580.1"/><use href="#m" x="671" y="1601.5"/><use href="#m" x="671" y="1606.9"/><use href="#m" x="671" y="1633.7"/><use href="#m" x="671" y="1663.2"/><use href="#m" x="671" y="1690"/><use href="#m" x="671" y="1740.9"/><use href="#m" x="688.7" y="1547.9"/><use href="#m" x="688.7" y="1580.1"/><use href="#m" x="688.7" y="1660.5"/><use href="#m" x="688.7" y="1687.3"/><use href="#m" x="706.3" y="1505"/><use href="#m" x="706.3" y="1547.9"/><use href="#m" x="706.3" y="1580.1"/><use href="#w" x="706.3" y="1606.9"/><use href="#w" x="706.3" y="1633.7"/><use href="#w" x="706.3" y="1660.5"/><use href="#m" x="706.3" y="1687.3"/></g>
<path class="rl" d="M36.2 1734.39h13.4v2.4h-13.4zM49.6 1731.71h13.4v2.4h-13.4zM62.99 1729.03h13.4v2.4h-13.4zM76.39 1726.35h13.4v2.4h-13.4zM89.79 1723.67h13.4v2.4h-13.4zM103.18 1721h16.08v2.4h-16.08zM119.26 1718.32h13.4v2.4h-13.4zM132.65 1715.64h13.4v2.4h-13.4zM146.05 1712.96h13.4v2.4h-13.4zM159.44 1710.28h13.4v2.4h-13.4zM172.84 1707.6h13.4v2.4h-13.4zM186.24 1704.92h16.08v2.4h-16.08zM202.31 1702.24h13.4v2.4h-13.4zM215.71 1699.56h13.4v2.4h-13.4zM229.1 1696.88h13.4v2.4h-13.4zM242.5 1694.2h13.4v2.4h-13.4zM255.9 1691.52h13.4v2.4h-13.4zM269.29 1688.84h16.08v2.4h-16.08zM285.37 1686.17h13.4v2.4h-13.4zM298.76 1683.49h13.4v2.4h-13.4zM312.16 1680.81h13.4v2.4h-13.4zM325.55 1678.13h13.4v2.4h-13.4zM338.95 1675.45h16.08v2.4h-16.08zM355.03 1672.77h13.4v2.4h-13.4zM368.42 1670.09h13.4v2.4h-13.4zM381.82 1667.41h13.4v2.4h-13.4zM395.21 1664.73h13.4v2.4h-13.4zM408.61 1662.05h13.4v2.4h-13.4zM422.01 1659.37h16.08v2.4h-16.08zM438.08 1656.69h13.4v2.4h-13.4zM451.48 1654.02h13.4v2.4h-13.4zM464.87 1651.34h13.4v2.4h-13.4zM478.27 1648.66h13.4v2.4h-13.4zM491.67 1645.98h13.4v2.4h-13.4zM505.06 1643.3h16.08v2.4h-16.08zM521.14 1640.62h13.4v2.4h-13.4zM534.53 1637.94h13.4v2.4h-13.4zM547.93 1635.26h13.4v2.4h-13.4zM561.32 1632.58h13.4v2.4h-13.4zM574.72 1629.9h16.08v2.4h-16.08zM590.8 1627.22h13.4v2.4h-13.4zM604.19 1624.54h13.4v2.4h-13.4zM617.59 1621.86h13.4v2.4h-13.4zM630.98 1619.19h13.4v2.4h-13.4zM644.38 1616.51h13.4v2.4h-13.4zM657.78 1613.83h16.08v2.4h-16.08zM673.85 1611.15h13.4v2.4h-13.4zM687.25 1608.47h13.4v2.4h-13.4zM700.64 1605.79h8.04v2.4h-8.04z"/>
<path class="ci" d="M36.2 1702.24h2.68v2.4h-2.68zM44.24 1702.24h8.04v2.4h-8.04zM57.63 1699.56h8.04v2.4h-8.04zM71.03 1699.56h2.68v2.4h-2.68zM73.71 1696.88h5.36v2.4h-5.36zM84.43 1696.88h8.04v2.4h-8.04zM97.82 1694.2h8.04v2.4h-8.04zM111.22 1694.2h2.68v2.4h-2.68zM113.9 1691.52h5.36v2.4h-5.36zM124.61 1691.52h8.04v2.4h-8.04zM138.01 1688.84h8.04v2.4h-8.04zM151.41 1688.84h2.68v2.4h-2.68zM154.09 1686.17h5.36v2.4h-5.36zM164.8 1686.17h8.04v2.4h-8.04zM178.2 1683.49h8.04v2.4h-8.04zM191.59 1683.49h2.68v2.4h-2.68zM194.27 1680.81h5.36v2.4h-5.36zM204.99 1680.81h8.04v2.4h-8.04zM218.39 1678.13h8.04v2.4h-8.04zM231.78 1675.45h8.04v2.4h-8.04zM245.18 1675.45h8.04v2.4h-8.04zM258.57 1672.77h8.04v2.4h-8.04zM271.97 1670.09h8.04v2.4h-8.04zM285.37 1670.09h5.36v2.4h-5.36zM290.73 1667.41h2.68v2.4h-2.68zM298.76 1667.41h8.04v2.4h-8.04zM312.16 1664.73h8.04v2.4h-8.04zM325.55 1664.73h5.36v2.4h-5.36zM330.91 1662.05h2.68v2.4h-2.68zM338.95 1662.05h8.04v2.4h-8.04zM352.35 1659.37h8.04v2.4h-8.04zM365.74 1659.37h2.68v2.4h-2.68zM368.42 1656.69h5.36v2.4h-5.36zM379.14 1656.69h8.04v2.4h-8.04zM392.53 1654.02h8.04v2.4h-8.04zM405.93 1651.34h8.04v2.4h-8.04zM419.33 1651.34h2.68v2.4h-2.68zM422.01 1648.66h5.36v2.4h-5.36zM432.72 1648.66h8.04v2.4h-8.04zM446.12 1645.98h8.04v2.4h-8.04zM459.51 1643.3h8.04v2.4h-8.04zM472.91 1643.3h2.68v2.4h-2.68zM475.59 1640.62h5.36v2.4h-5.36zM486.31 1640.62h5.36v2.4h-5.36zM491.67 1637.94h2.68v2.4h-2.68zM499.7 1637.94h8.04v2.4h-8.04zM513.1 1635.26h8.04v2.4h-8.04zM526.49 1632.58h8.04v2.4h-8.04zM539.89 1629.9h8.04v2.4h-8.04zM553.29 1627.22h8.04v2.4h-8.04zM566.68 1624.54h8.04v2.4h-8.04zM580.08 1621.86h8.04v2.4h-8.04zM593.47 1619.19h8.04v2.4h-8.04zM606.87 1616.51h8.04v2.4h-8.04zM620.27 1613.83h5.36v2.4h-5.36zM625.63 1611.15h2.68v2.4h-2.68zM633.66 1611.15h5.36v2.4h-5.36zM639.02 1608.47h2.68v2.4h-2.68zM647.06 1608.47h2.68v2.4h-2.68zM649.74 1605.79h5.36v2.4h-5.36zM660.45 1603.11h8.04v2.4h-8.04zM673.85 1600.43h8.04v2.4h-8.04zM687.25 1597.75h8.04v2.4h-8.04zM700.64 1595.07h5.36v2.4h-5.36zM706 1592.39h2.68v2.4h-2.68z"/>
<path class="ci" d="M38.88 1766.54h8.04v2.4h-8.04zM52.28 1763.86h5.36v2.4h-5.36zM57.63 1761.18h2.68v2.4h-2.68zM65.67 1761.18h2.68v2.4h-2.68zM68.35 1758.5h5.36v2.4h-5.36zM79.07 1755.82h8.04v2.4h-8.04zM92.46 1753.15h5.36v2.4h-5.36zM97.82 1750.47h2.68v2.4h-2.68zM105.86 1750.47h2.68v2.4h-2.68zM108.54 1747.79h5.36v2.4h-5.36zM119.26 1745.11h8.04v2.4h-8.04zM132.65 1742.43h8.04v2.4h-8.04zM146.05 1739.75h5.36v2.4h-5.36zM151.41 1737.07h2.68v2.4h-2.68zM159.44 1737.07h2.68v2.4h-2.68zM162.12 1734.39h5.36v2.4h-5.36zM172.84 1731.71h8.04v2.4h-8.04zM186.24 1729.03h8.04v2.4h-8.04zM199.63 1726.35h5.36v2.4h-5.36zM204.99 1723.67h2.68v2.4h-2.68zM213.03 1723.67h2.68v2.4h-2.68zM215.71 1721h5.36v2.4h-5.36zM226.42 1718.32h8.04v2.4h-8.04zM239.82 1715.64h8.04v2.4h-8.04zM253.22 1712.96h5.36v2.4h-5.36zM258.57 1710.28h2.68v2.4h-2.68zM266.61 1710.28h2.68v2.4h-2.68zM269.29 1707.6h5.36v2.4h-5.36zM280.01 1704.92h8.04v2.4h-8.04zM293.4 1702.24h8.04v2.4h-8.04zM306.8 1699.56h5.36v2.4h-5.36zM312.16 1696.88h2.68v2.4h-2.68zM320.2 1696.88h2.68v2.4h-2.68zM322.88 1694.2h5.36v2.4h-5.36zM333.59 1691.52h8.04v2.4h-8.04zM346.99 1688.84h8.04v2.4h-8.04zM360.38 1686.17h8.04v2.4h-8.04zM373.78 1683.49h5.36v2.4h-5.36zM379.14 1680.81h2.68v2.4h-2.68zM387.18 1680.81h2.68v2.4h-2.68zM389.86 1678.13h5.36v2.4h-5.36zM400.57 1675.45h8.04v2.4h-8.04zM413.97 1672.77h8.04v2.4h-8.04zM427.36 1670.09h8.04v2.4h-8.04zM440.76 1667.41h5.36v2.4h-5.36zM446.12 1664.73h2.68v2.4h-2.68zM454.16 1664.73h2.68v2.4h-2.68zM456.84 1662.05h5.36v2.4h-5.36zM467.55 1662.05h2.68v2.4h-2.68zM470.23 1659.37h5.36v2.4h-5.36zM480.95 1656.69h8.04v2.4h-8.04zM494.34 1654.02h8.04v2.4h-8.04zM507.74 1651.34h8.04v2.4h-8.04zM521.14 1648.66h8.04v2.4h-8.04zM534.53 1645.98h8.04v2.4h-8.04zM547.93 1643.3h8.04v2.4h-8.04zM561.32 1640.62h8.04v2.4h-8.04zM574.72 1637.94h8.04v2.4h-8.04zM588.12 1635.26h8.04v2.4h-8.04zM601.51 1635.26h2.68v2.4h-2.68zM604.19 1632.58h5.36v2.4h-5.36zM614.91 1632.58h5.36v2.4h-5.36zM620.27 1629.9h2.68v2.4h-2.68zM628.3 1629.9h8.04v2.4h-8.04zM641.7 1627.22h8.04v2.4h-8.04zM655.1 1624.54h8.04v2.4h-8.04zM668.49 1624.54h5.36v2.4h-5.36zM673.85 1621.86h2.68v2.4h-2.68zM681.89 1621.86h8.04v2.4h-8.04zM695.28 1619.19h8.04v2.4h-8.04z"/>
</g>
<g id="panel-RP">
<path class="ax" d="M976.7 1461.5V1783.5M871.4 1783.5H1643.4M976.7 1783.5v10.4M1151.3 1783.5v10.4M1327.5 1783.5v10.4M1503 1783.5v10.4M976.7 1649.5h-9.8M976.7 1516h-9.8"/>
<text class="tk" x="943.9" y="1521" textLength="39.5" lengthAdjust="spacingAndGlyphs">100</text>
<text class="tk" x="948.3" y="1659.2" textLength="27" lengthAdjust="spacingAndGlyphs">50</text>
<text class="lb" transform="translate(910.2 1619.8) rotate(-90)" textLength="115.5" lengthAdjust="spacingAndGlyphs">RP score</text>
<text class="tk" x="976.8" y="1818.6" textLength="11.7" lengthAdjust="spacingAndGlyphs">0</text>
<text class="tk" x="1151.2" y="1818.6" textLength="13.2" lengthAdjust="spacingAndGlyphs">5</text>
<text class="tk" x="1325.5" y="1818.6" textLength="22.9" lengthAdjust="spacingAndGlyphs">10</text>
<text class="tk" x="1500" y="1818.6" textLength="24.6" lengthAdjust="spacingAndGlyphs">15</text>
<text class="lb" x="1257.2" y="1851.6" textLength="132.8" lengthAdjust="spacingAndGlyphs">JOA score</text>
<g class="pt"><use href="#m" x="906.5" y="1699.8"/><use href="#s" x="1029.3" y="1750"/><use href="#z" x="1046.9" y="1783.5"/><use href="#z" x="1064.4" y="1783.5"/><use href="#s" x="1099.5" y="1565.8"/><use href="#m" x="1152.2" y="1649.5"/><use href="#m" x="1152.2" y="1716.5"/><use href="#z" x="1152.2" y="1783.5"/><use href="#m" x="1169.7" y="1649.5"/><use href="#z" x="1169.7" y="1783.5"/><use href="#m" x="1187.2" y="1582.6"/><use href="#m" x="1187.2" y="1649.5"/><use href="#m" x="1187.2" y="1699.8"/><use href="#m" x="1187.2" y="1716.5"/><use href="#z" x="1187.2" y="1783.5"/><use href="#m" x="1204.8" y="1599.3"/><use href="#m" x="1204.8" y="1716.5"/><use href="#m" x="1204.8" y="1750"/><use href="#z" x="1204.8" y="1783.5"/><use href="#m" x="1222.3" y="1666.3"/><use href="#m" x="1222.3" y="1699.8"/><use href="#m" x="1222.3" y="1716.5"/><use href="#m" x="1222.3" y="1750"/><use href="#m" x="1239.9" y="1649.5"/><use href="#m" x="1239.9" y="1716.5"/><use href="#m" x="1239.9" y="1766.8"/><use href="#z" x="1239.9" y="1783.5"/><use href="#s" x="1257.4" y="1616.1"/><use href="#m" x="1257.4" y="1632.8"/><use href="#s" x="1257.4" y="1683"/><use href="#w" x="1257.4" y="1716.5"/><use href="#Z" x="1257.4" y="1783.5"/><use href="#b" x="1275" y="1616.1"/><use href="#m" x="1275" y="1632.8"/><use href="#m" x="1275" y="1649.5"/><use href="#m" x="1275" y="1716.5"/><use href="#s" x="1292.5" y="1549.1"/><use href="#m" x="1292.5" y="1666.3"/><use href="#w" x="1292.5" y="1716.5"/><use href="#m" x="1292.5" y="1766.8"/><use href="#Z" x="1292.5" y="1783.5"/><use href="#m" x="1310.1" y="1565.8"/><use href="#m" x="1310.1" y="1632.8"/><use href="#m" x="1310.1" y="1666.3"/><use href="#b" x="1310.1" y="1750"/><use href="#z" x="1310.1" y="1783.5"/><use href="#m" x="1327.6" y="1515.6"/><use href="#s" x="1327.6" y="1549.1"/><use href="#m" x="1327.6" y="1599.3"/><use href="#s" x="1327.6" y="1616.1"/><use href="#w" x="1327.6" y="1649.5"/><use href="#m" x="1327.6" y="1666.3"/><use href="#m" x="1327.6" y="1699.8"/><use href="#w" x="1327.6" y="1716.5"/><use href="#m" x="1327.6" y="1733.3"/><use href="#s" x="1327.6" y="1750"/><use href="#Z" x="1327.6" y="1783.5"/><use href="#m" x="1345.1" y="1565.8"/><use href="#m" x="1345.1" y="1582.6"/><use href="#m" x="1345.1" y="1599.3"/><use href="#m" x="1345.1" y="1616.1"/><use href="#m" x="1345.1" y="1632.8"/><use href="#m" x="1345.1" y="1649.5"/><use href="#m" x="1345.1" y="1666.3"/><use href="#z" x="1345.1" y="1783.5"/><use href="#m" x="1362.7" y="1515.6"/><use href="#s" x="1362.7" y="1549.1"/><use href="#m" x="1362.7" y="1582.6"/><use href="#m" x="1362.7" y="1599.3"/><use href="#m" x="1362.7" y="1649.5"/><use href="#s" x="1362.7" y="1683"/><use href="#m" x="1362.7" y="1699.8"/><use href="#w" x="1362.7" y="1716.5"/><use href="#m" x="1362.7" y="1733.3"/><use href="#Z" x="1362.7" y="1783.5"/><use href="#m" x="1380.2" y="1582.6"/><use href="#m" x="1380.2" y="1599.3"/><use href="#m" x="1380.2" y="1616.1"/><use href="#m" x="1380.2" y="1632.8"/><use href="#m" x="1380.2" y="1649.5"/><use href="#m" x="1380.2" y="1699.8"/><use href="#m" x="1397.8" y="1515.6"/><use href="#m" x="1397.8" y="1532.3"/><use href="#m" x="1397.8" y="1549.1"/><use href="#m" x="1397.8" y="1565.8"/><use href="#m" x="1397.8" y="1582.6"/><use href="#m" x="1397.8" y="1599.3"/><use href="#m" x="1397.8" y="1632.8"/><use href="#m" x="1397.8" y="1649.5"/><use href="#m" x="1397.8" y="1716.5"/><use href="#m" x="1415.3" y="1515.6"/><use href="#s" x="1415.3" y="1549.1"/><use href="#m" x="1415.3" y="1582.6"/><use href="#s" x="1415.3" y="1616.1"/><use href="#m" x="1415.3" y="1649.5"/><use href="#m" x="1415.3" y="1666.3"/><use href="#m" x="1415.3" y="1716.5"/><use href="#m" x="1415.3" y="1733.3"/><use href="#z" x="1415.3" y="1783.5"/><use href="#m" x="1432.9" y="1515.6"/><use href="#m" x="1432.9" y="1549.1"/><use href="#m" x="1432.9" y="1565.8"/><use href="#m" x="1432.9" y="1582.6"/><use href="#m" x="1432.9" y="1632.8"/><use href="#m" x="1432.9" y="1649.5"/><use href="#m" x="1432.9" y="1683"/><use href="#m" x="1432.9" y="1699.8"/><use href="#m" x="1432.9" y="1716.5"/><use href="#m" x="1432.9" y="1733.3"/><use href="#m" x="1432.9" y="1766.8"/><use href="#z" x="1432.9" y="1783.5"/><use href="#m" x="1450.4" y="1515.6"/><use href="#s" x="1450.4" y="1616.1"/><use href="#m" x="1450.4" y="1632.8"/><use href="#m" x="1450.4" y="1649.5"/><use href="#m" x="1450.4" y="1666.3"/><use href="#m" x="1450.4" y="1716.5"/><use href="#m" x="1450.4" y="1733.3"/><use href="#z" x="1450.4" y="1783.5"/><use href="#m" x="1468" y="1515.6"/><use href="#m" x="1468" y="1549.1"/><use href="#m" x="1468" y="1565.8"/><use href="#m" x="1468" y="1582.6"/><use href="#m" x="1468" y="1599.3"/><use href="#m" x="1468" y="1616.1"/><use href="#m" x="1468" y="1632.8"/><use href="#m" x="1468" y="1666.3"/><use href="#m" x="1468" y="1699.8"/><use href="#m" x="1468" y="1716.5"/><use href="#m" x="1485.5" y="1515.6"/><use href="#m" x="1485.5" y="1532.3"/><use href="#m" x="1485.5" y="1582.6"/><use href="#w" x="1485.5" y="1649.5"/><use href="#Z" x="1485.5" y="1783.5"/><use href="#m" x="1503.1" y="1515.6"/><use href="#m" x="1503.1" y="1532.3"/><use href="#m" x="1503.1" y="1565.8"/><use href="#m" x="1503.1" y="1582.6"/><use href="#m" x="1503.1" y="1599.3"/><use href="#b" x="1503.1" y="1616.1"/><use href="#m" x="1503.1" y="1649.5"/><use href="#m" x="1503.1" y="1666.3"/><use href="#m" x="1503.1" y="1716.5"/><use href="#m" x="1520.6" y="1515.6"/><use href="#m" x="1520.6" y="1532.3"/><use href="#s" x="1520.6" y="1549.1"/><use href="#s" x="1520.6" y="1616.1"/><use href="#m" x="1538.1" y="1515.6"/><use href="#m" x="1538.1" y="1532.3"/><use href="#b" x="1538.1" y="1549.1"/><use href="#m" x="1538.1" y="1565.8"/><use href="#m" x="1538.1" y="1582.6"/><use href="#m" x="1538.1" y="1632.8"/><use href="#m" x="1538.1" y="1649.5"/><use href="#m" x="1538.1" y="1666.3"/><use href="#m" x="1538.1" y="1766.8"/><use href="#w" x="1555.7" y="1515.6"/><use href="#s" x="1555.7" y="1549.1"/><use href="#m" x="1573.2" y="1515.6"/><use href="#m" x="1573.2" y="1532.3"/><use href="#b" x="1573.2" y="1549.1"/><use href="#m" x="1573.2" y="1582.6"/><use href="#m" x="1573.2" y="1599.3"/><use href="#b" x="1573.2" y="1616.1"/><use href="#m" x="1573.2" y="1649.5"/><use href="#m" x="1573.2" y="1666.3"/><use href="#b" x="1573.2" y="1683"/></g>
<path class="rl" d="M1045.02 1782.35h5.36v2.3h-5.36zM1050.38 1779.67h5.36v2.3h-5.36zM1055.74 1776.99h8.04v2.3h-8.04zM1063.77 1774.31h5.36v2.3h-5.36zM1069.13 1771.63h8.04v2.3h-8.04zM1077.17 1768.95h5.36v2.3h-5.36zM1082.53 1766.27h5.36v2.3h-5.36zM1087.89 1763.6h8.04v2.3h-8.04zM1095.92 1760.92h5.36v2.3h-5.36zM1101.28 1758.24h8.04v2.3h-8.04zM1109.32 1755.56h5.36v2.3h-5.36zM1114.68 1752.88h5.36v2.3h-5.36zM1120.04 1750.2h8.04v2.3h-8.04zM1128.07 1747.52h5.36v2.3h-5.36zM1133.43 1744.84h8.04v2.3h-8.04zM1141.47 1742.16h5.36v2.3h-5.36zM1146.83 1739.48h5.36v2.3h-5.36zM1152.19 1736.8h8.04v2.3h-8.04zM1160.23 1734.12h5.36v2.3h-5.36zM1165.58 1731.45h8.04v2.3h-8.04zM1173.62 1728.77h5.36v2.3h-5.36zM1178.98 1726.09h5.36v2.3h-5.36zM1184.34 1723.41h8.04v2.3h-8.04zM1192.38 1720.73h5.36v2.3h-5.36zM1197.73 1718.05h8.04v2.3h-8.04zM1205.77 1715.37h5.36v2.3h-5.36zM1211.13 1712.69h5.36v2.3h-5.36zM1216.49 1710.01h8.04v2.3h-8.04zM1224.53 1707.33h5.36v2.3h-5.36zM1229.88 1704.65h8.04v2.3h-8.04zM1237.92 1701.97h5.36v2.3h-5.36zM1243.28 1699.29h5.36v2.3h-5.36zM1248.64 1696.62h8.04v2.3h-8.04zM1256.68 1693.94h5.36v2.3h-5.36zM1262.03 1691.26h8.04v2.3h-8.04zM1270.07 1688.58h5.36v2.3h-5.36zM1275.43 1685.9h5.36v2.3h-5.36zM1280.79 1683.22h8.04v2.3h-8.04zM1288.83 1680.54h5.36v2.3h-5.36zM1294.19 1677.86h8.04v2.3h-8.04zM1302.22 1675.18h5.36v2.3h-5.36zM1307.58 1672.5h5.36v2.3h-5.36zM1312.94 1669.82h8.04v2.3h-8.04zM1320.98 1667.14h5.36v2.3h-5.36zM1326.34 1664.47h8.04v2.3h-8.04zM1334.37 1661.79h5.36v2.3h-5.36zM1339.73 1659.11h5.36v2.3h-5.36zM1345.09 1656.43h8.04v2.3h-8.04zM1353.13 1653.75h5.36v2.3h-5.36zM1358.49 1651.07h8.04v2.3h-8.04zM1366.52 1648.39h5.36v2.3h-5.36zM1371.88 1645.71h5.36v2.3h-5.36zM1377.24 1643.03h8.04v2.3h-8.04zM1385.28 1640.35h5.36v2.3h-5.36zM1390.64 1637.67h8.04v2.3h-8.04zM1398.67 1634.99h5.36v2.3h-5.36zM1404.03 1632.31h5.36v2.3h-5.36zM1409.39 1629.64h8.04v2.3h-8.04zM1417.43 1626.96h5.36v2.3h-5.36zM1422.79 1624.28h8.04v2.3h-8.04zM1430.82 1621.6h5.36v2.3h-5.36zM1436.18 1618.92h5.36v2.3h-5.36zM1441.54 1616.24h8.04v2.3h-8.04zM1449.58 1613.56h5.36v2.3h-5.36zM1454.94 1610.88h8.04v2.3h-8.04zM1462.97 1608.2h5.36v2.3h-5.36zM1468.33 1605.52h8.04v2.3h-8.04zM1476.37 1602.84h5.36v2.3h-5.36zM1481.73 1600.16h5.36v2.3h-5.36zM1487.09 1597.49h8.04v2.3h-8.04zM1495.13 1594.81h5.36v2.3h-5.36zM1500.48 1592.13h8.04v2.3h-8.04zM1508.52 1589.45h5.36v2.3h-5.36zM1513.88 1586.77h5.36v2.3h-5.36zM1519.24 1584.09h8.04v2.3h-8.04zM1527.28 1581.41h5.36v2.3h-5.36zM1532.63 1578.73h8.04v2.3h-8.04zM1540.67 1576.05h5.36v2.3h-5.36zM1546.03 1573.37h5.36v2.3h-5.36zM1551.39 1570.69h8.04v2.3h-8.04zM1559.43 1568.01h5.36v2.3h-5.36zM1564.78 1565.33h8.04v2.3h-8.04zM1572.82 1562.66h2.68v2.3h-2.68z"/>
<path class="ci" d="M1047.7 1755.56h5.36v2.3h-5.36zM1053.06 1752.88h2.68v2.3h-2.68zM1061.09 1750.2h5.36v2.3h-5.36zM1066.45 1747.52h2.68v2.3h-2.68zM1074.49 1744.84h8.04v2.3h-8.04zM1087.89 1742.16h2.68v2.3h-2.68zM1090.57 1739.48h5.36v2.3h-5.36zM1101.28 1736.8h5.36v2.3h-5.36zM1106.64 1734.12h2.68v2.3h-2.68zM1114.68 1731.45h5.36v2.3h-5.36zM1120.04 1728.77h2.68v2.3h-2.68zM1128.07 1726.09h8.04v2.3h-8.04zM1141.47 1723.41h2.68v2.3h-2.68zM1144.15 1720.73h5.36v2.3h-5.36zM1154.87 1718.05h2.68v2.3h-2.68zM1157.55 1715.37h5.36v2.3h-5.36zM1168.26 1712.69h5.36v2.3h-5.36zM1173.62 1710.01h2.68v2.3h-2.68zM1181.66 1707.33h5.36v2.3h-5.36zM1187.02 1704.65h2.68v2.3h-2.68zM1195.05 1701.97h8.04v2.3h-8.04zM1208.45 1699.29h2.68v2.3h-2.68zM1211.13 1696.62h5.36v2.3h-5.36zM1221.85 1693.94h2.68v2.3h-2.68zM1224.53 1691.26h5.36v2.3h-5.36zM1235.24 1688.58h5.36v2.3h-5.36zM1240.6 1685.9h2.68v2.3h-2.68zM1248.64 1683.22h5.36v2.3h-5.36zM1254 1680.54h2.68v2.3h-2.68zM1262.03 1677.86h8.04v2.3h-8.04zM1275.43 1675.18h2.68v2.3h-2.68zM1278.11 1672.5h5.36v2.3h-5.36zM1288.83 1669.82h2.68v2.3h-2.68zM1291.51 1667.14h5.36v2.3h-5.36zM1302.22 1664.47h5.36v2.3h-5.36zM1307.58 1661.79h2.68v2.3h-2.68zM1315.62 1659.11h5.36v2.3h-5.36zM1320.98 1656.43h2.68v2.3h-2.68zM1329.01 1653.75h5.36v2.3h-5.36zM1334.37 1651.07h2.68v2.3h-2.68zM1342.41 1648.39h5.36v2.3h-5.36zM1347.77 1645.71h2.68v2.3h-2.68zM1355.81 1643.03h8.04v2.3h-8.04zM1369.2 1637.67h8.04v2.3h-8.04zM1382.6 1632.31h8.04v2.3h-8.04zM1395.99 1626.96h8.04v2.3h-8.04zM1409.39 1621.6h5.36v2.3h-5.36zM1414.75 1618.92h2.68v2.3h-2.68zM1422.79 1616.24h5.36v2.3h-5.36zM1428.15 1613.56h2.68v2.3h-2.68zM1436.18 1610.88h5.36v2.3h-5.36zM1441.54 1608.2h2.68v2.3h-2.68zM1449.58 1605.52h2.68v2.3h-2.68zM1452.26 1602.84h5.36v2.3h-5.36zM1462.97 1600.16h2.68v2.3h-2.68zM1465.65 1597.49h5.36v2.3h-5.36zM1476.37 1594.81h2.68v2.3h-2.68zM1479.05 1592.13h5.36v2.3h-5.36zM1489.77 1586.77h5.36v2.3h-5.36zM1495.13 1584.09h2.68v2.3h-2.68zM1503.16 1581.41h5.36v2.3h-5.36zM1508.52 1578.73h2.68v2.3h-2.68zM1516.56 1576.05h2.68v2.3h-2.68zM1519.24 1573.37h5.36v2.3h-5.36zM1529.95 1568.01h8.04v2.3h-8.04zM1543.35 1562.66h5.36v2.3h-5.36zM1548.71 1559.98h2.68v2.3h-2.68zM1556.75 1557.3h2.68v2.3h-2.68zM1559.43 1554.62h5.36v2.3h-5.36zM1570.14 1549.26h5.36v2.3h-5.36z"/>
<path class="ci" d="M1109.32 1776.99h5.36v2.3h-5.36zM1114.68 1774.31h2.68v2.3h-2.68zM1122.72 1771.63h5.36v2.3h-5.36zM1128.07 1768.95h2.68v2.3h-2.68zM1136.11 1766.27h2.68v2.3h-2.68zM1138.79 1763.6h5.36v2.3h-5.36zM1149.51 1758.24h5.36v2.3h-5.36zM1154.87 1755.56h2.68v2.3h-2.68zM1162.9 1752.88h2.68v2.3h-2.68zM1165.58 1750.2h5.36v2.3h-5.36zM1176.3 1744.84h8.04v2.3h-8.04zM1189.7 1739.48h5.36v2.3h-5.36zM1195.05 1736.8h2.68v2.3h-2.68zM1203.09 1734.12h2.68v2.3h-2.68zM1205.77 1731.45h5.36v2.3h-5.36zM1216.49 1726.09h5.36v2.3h-5.36zM1221.85 1723.41h2.68v2.3h-2.68zM1229.88 1720.73h5.36v2.3h-5.36zM1235.24 1718.05h2.68v2.3h-2.68zM1243.28 1715.37h2.68v2.3h-2.68zM1245.96 1712.69h5.36v2.3h-5.36zM1256.68 1707.33h5.36v2.3h-5.36zM1262.03 1704.65h2.68v2.3h-2.68zM1270.07 1701.97h2.68v2.3h-2.68zM1272.75 1699.29h5.36v2.3h-5.36zM1283.47 1696.62h2.68v2.3h-2.68zM1286.15 1693.94h5.36v2.3h-5.36zM1296.86 1688.58h5.36v2.3h-5.36zM1302.22 1685.9h2.68v2.3h-2.68zM1310.26 1683.22h5.36v2.3h-5.36zM1315.62 1680.54h2.68v2.3h-2.68zM1323.66 1677.86h2.68v2.3h-2.68zM1326.34 1675.18h5.36v2.3h-5.36zM1337.05 1669.82h8.04v2.3h-8.04zM1350.45 1664.47h5.36v2.3h-5.36zM1355.81 1661.79h2.68v2.3h-2.68zM1363.84 1659.11h5.36v2.3h-5.36zM1369.2 1656.43h2.68v2.3h-2.68zM1377.24 1653.75h2.68v2.3h-2.68zM1379.92 1651.07h5.36v2.3h-5.36zM1390.64 1648.39h2.68v2.3h-2.68zM1393.32 1645.71h5.36v2.3h-5.36zM1404.03 1643.03h2.68v2.3h-2.68zM1406.71 1640.35h5.36v2.3h-5.36zM1417.43 1634.99h8.04v2.3h-8.04zM1430.82 1629.64h8.04v2.3h-8.04zM1444.22 1624.28h8.04v2.3h-8.04zM1457.62 1618.92h8.04v2.3h-8.04zM1471.01 1613.56h8.04v2.3h-8.04zM1484.41 1608.2h8.04v2.3h-8.04zM1497.8 1605.52h2.68v2.3h-2.68zM1500.48 1602.84h5.36v2.3h-5.36zM1511.2 1600.16h2.68v2.3h-2.68zM1513.88 1597.49h5.36v2.3h-5.36zM1524.6 1594.81h2.68v2.3h-2.68zM1527.28 1592.13h5.36v2.3h-5.36zM1537.99 1589.45h5.36v2.3h-5.36zM1543.35 1586.77h2.68v2.3h-2.68zM1551.39 1584.09h5.36v2.3h-5.36zM1556.75 1581.41h2.68v2.3h-2.68zM1564.78 1578.73h8.04v2.3h-8.04z"/>
</g>
</svg>
</body></html>
